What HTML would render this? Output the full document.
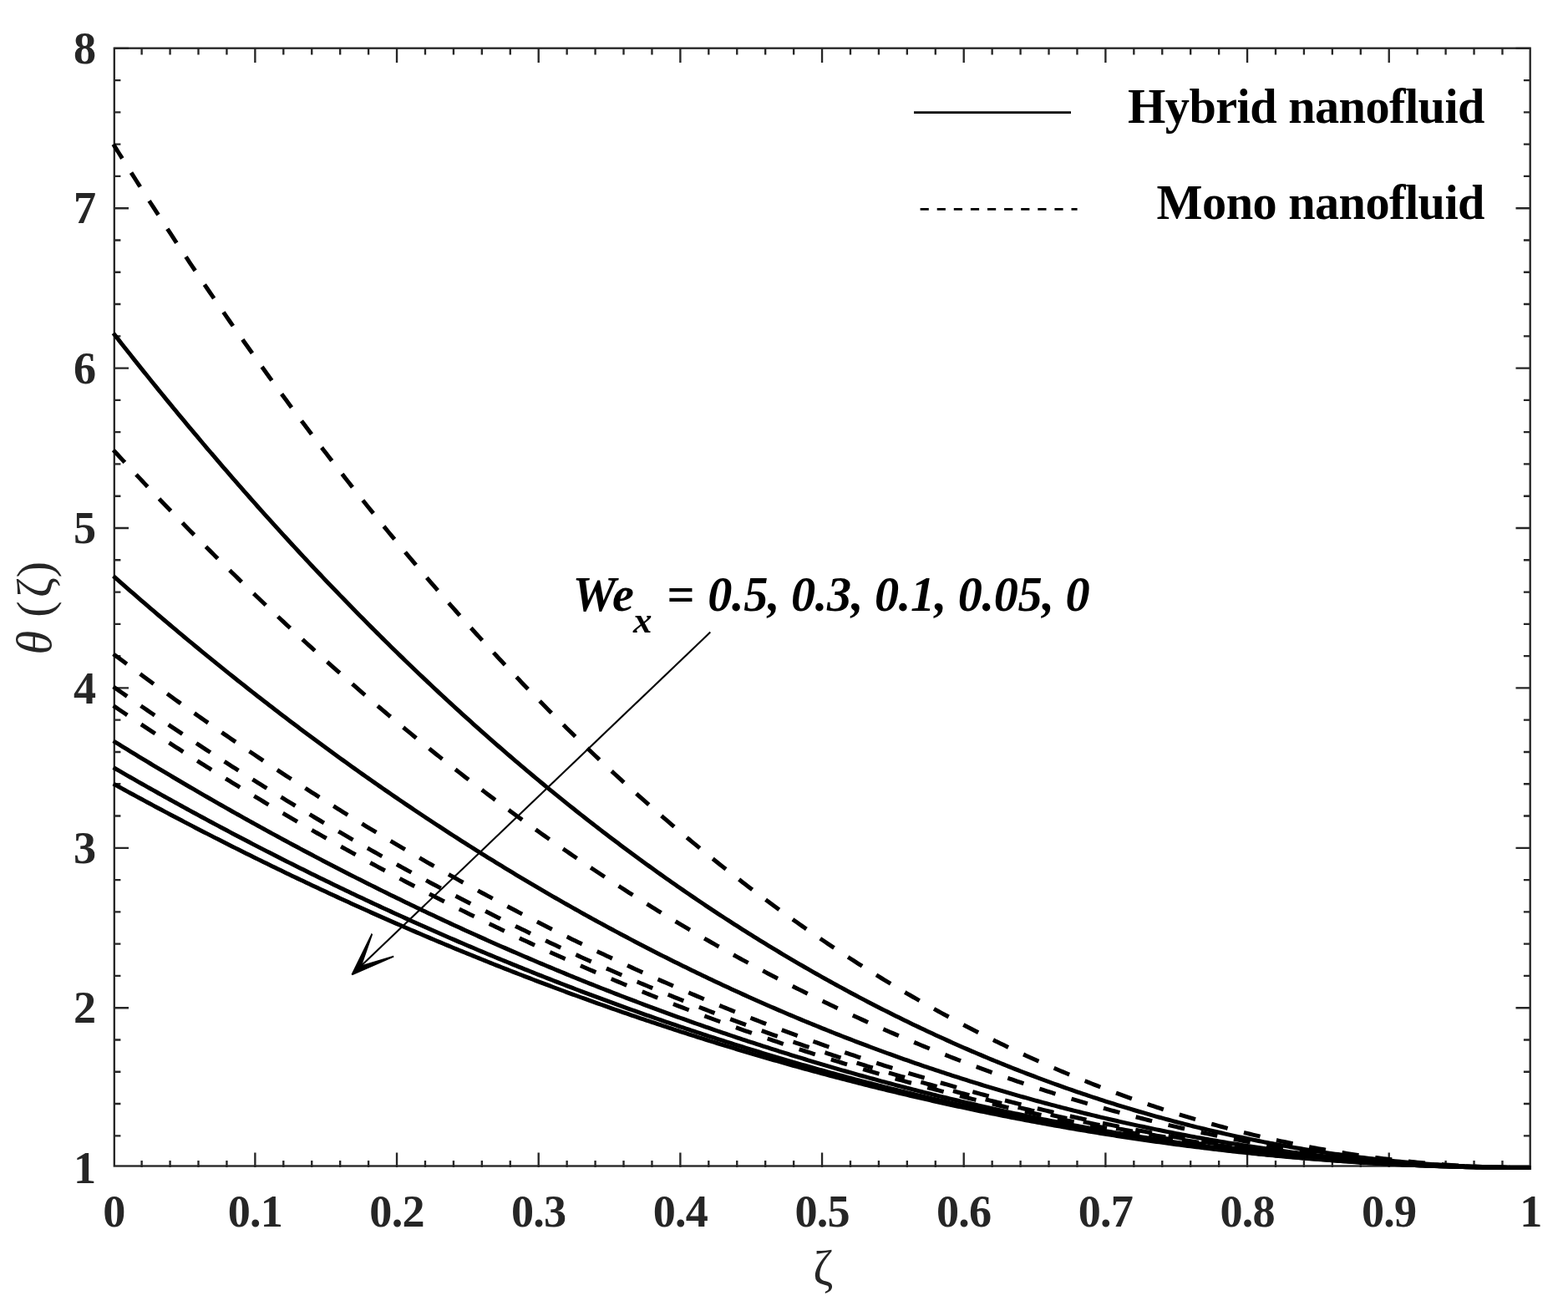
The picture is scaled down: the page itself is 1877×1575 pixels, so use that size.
<!DOCTYPE html>
<html lang="en"><head><meta charset="utf-8"><title>Temperature profile</title>
<style>html,body{margin:0;padding:0;background:#fff}body{width:1877px;height:1575px;overflow:hidden}svg{display:block}text{font-family:"Liberation Serif","DejaVu Serif",serif}.tk{font-weight:bold;font-size:54.2px;fill:#262626;letter-spacing:-0.8px}.lg{font-weight:bold;font-size:58.3px;fill:#000;letter-spacing:-0.55px}.an{font-weight:bold;font-style:italic;font-size:58.3px;fill:#000}.al{font-size:58.3px;fill:#262626}</style></head><body>
<svg width="1877" height="1575" viewBox="0 0 1877 1575" role="img" aria-label="Temperature profile plot">
<rect x="0" y="0" width="1877" height="1575" fill="#fff"/>
<path d="M169.63,1397.10 V1388.90 M169.63,57.70 V65.60 M203.57,1397.10 V1388.90 M203.57,57.70 V65.60 M237.50,1397.10 V1388.90 M237.50,57.70 V65.60 M271.44,1397.10 V1388.90 M271.44,57.70 V65.60 M305.37,1397.10 V1379.40 M305.37,57.70 V75.00 M339.30,1397.10 V1388.90 M339.30,57.70 V65.60 M373.24,1397.10 V1388.90 M373.24,57.70 V65.60 M407.17,1397.10 V1388.90 M407.17,57.70 V65.60 M441.11,1397.10 V1388.90 M441.11,57.70 V65.60 M475.04,1397.10 V1379.40 M475.04,57.70 V75.00 M508.97,1397.10 V1388.90 M508.97,57.70 V65.60 M542.91,1397.10 V1388.90 M542.91,57.70 V65.60 M576.84,1397.10 V1388.90 M576.84,57.70 V65.60 M610.78,1397.10 V1388.90 M610.78,57.70 V65.60 M644.71,1397.10 V1379.40 M644.71,57.70 V75.00 M678.64,1397.10 V1388.90 M678.64,57.70 V65.60 M712.58,1397.10 V1388.90 M712.58,57.70 V65.60 M746.51,1397.10 V1388.90 M746.51,57.70 V65.60 M780.45,1397.10 V1388.90 M780.45,57.70 V65.60 M814.38,1397.10 V1379.40 M814.38,57.70 V75.00 M848.31,1397.10 V1388.90 M848.31,57.70 V65.60 M882.25,1397.10 V1388.90 M882.25,57.70 V65.60 M916.18,1397.10 V1388.90 M916.18,57.70 V65.60 M950.12,1397.10 V1388.90 M950.12,57.70 V65.60 M984.05,1397.10 V1379.40 M984.05,57.70 V75.00 M1017.98,1397.10 V1388.90 M1017.98,57.70 V65.60 M1051.92,1397.10 V1388.90 M1051.92,57.70 V65.60 M1085.85,1397.10 V1388.90 M1085.85,57.70 V65.60 M1119.79,1397.10 V1388.90 M1119.79,57.70 V65.60 M1153.72,1397.10 V1379.40 M1153.72,57.70 V75.00 M1187.65,1397.10 V1388.90 M1187.65,57.70 V65.60 M1221.59,1397.10 V1388.90 M1221.59,57.70 V65.60 M1255.52,1397.10 V1388.90 M1255.52,57.70 V65.60 M1289.46,1397.10 V1388.90 M1289.46,57.70 V65.60 M1323.39,1397.10 V1379.40 M1323.39,57.70 V75.00 M1357.32,1397.10 V1388.90 M1357.32,57.70 V65.60 M1391.26,1397.10 V1388.90 M1391.26,57.70 V65.60 M1425.19,1397.10 V1388.90 M1425.19,57.70 V65.60 M1459.13,1397.10 V1388.90 M1459.13,57.70 V65.60 M1493.06,1397.10 V1379.40 M1493.06,57.70 V75.00 M1526.99,1397.10 V1388.90 M1526.99,57.70 V65.60 M1560.93,1397.10 V1388.90 M1560.93,57.70 V65.60 M1594.86,1397.10 V1388.90 M1594.86,57.70 V65.60 M1628.80,1397.10 V1388.90 M1628.80,57.70 V65.60 M1662.73,1397.10 V1379.40 M1662.73,57.70 V75.00 M1696.66,1397.10 V1388.90 M1696.66,57.70 V65.60 M1730.60,1397.10 V1388.90 M1730.60,57.70 V65.60 M1764.53,1397.10 V1388.90 M1764.53,57.70 V65.60 M1798.47,1397.10 V1388.90 M1798.47,57.70 V65.60 M136.80,1359.32 H144.40 M1831.70,1359.32 H1823.90 M136.80,1321.04 H144.40 M1831.70,1321.04 H1823.90 M136.80,1282.76 H144.40 M1831.70,1282.76 H1823.90 M136.80,1244.48 H144.40 M1831.70,1244.48 H1823.90 M136.80,1206.20 H154.00 M1831.70,1206.20 H1814.50 M136.80,1167.92 H144.40 M1831.70,1167.92 H1823.90 M136.80,1129.64 H144.40 M1831.70,1129.64 H1823.90 M136.80,1091.36 H144.40 M1831.70,1091.36 H1823.90 M136.80,1053.08 H144.40 M1831.70,1053.08 H1823.90 M136.80,1014.80 H154.00 M1831.70,1014.80 H1814.50 M136.80,976.52 H144.40 M1831.70,976.52 H1823.90 M136.80,938.24 H144.40 M1831.70,938.24 H1823.90 M136.80,899.96 H144.40 M1831.70,899.96 H1823.90 M136.80,861.68 H144.40 M1831.70,861.68 H1823.90 M136.80,823.40 H154.00 M1831.70,823.40 H1814.50 M136.80,785.12 H144.40 M1831.70,785.12 H1823.90 M136.80,746.84 H144.40 M1831.70,746.84 H1823.90 M136.80,708.56 H144.40 M1831.70,708.56 H1823.90 M136.80,670.28 H144.40 M1831.70,670.28 H1823.90 M136.80,632.00 H154.00 M1831.70,632.00 H1814.50 M136.80,593.72 H144.40 M1831.70,593.72 H1823.90 M136.80,555.44 H144.40 M1831.70,555.44 H1823.90 M136.80,517.16 H144.40 M1831.70,517.16 H1823.90 M136.80,478.88 H144.40 M1831.70,478.88 H1823.90 M136.80,440.60 H154.00 M1831.70,440.60 H1814.50 M136.80,402.32 H144.40 M1831.70,402.32 H1823.90 M136.80,364.04 H144.40 M1831.70,364.04 H1823.90 M136.80,325.76 H144.40 M1831.70,325.76 H1823.90 M136.80,287.48 H144.40 M1831.70,287.48 H1823.90 M136.80,249.20 H154.00 M1831.70,249.20 H1814.50 M136.80,210.92 H144.40 M1831.70,210.92 H1823.90 M136.80,172.64 H144.40 M1831.70,172.64 H1823.90 M136.80,134.36 H144.40 M1831.70,134.36 H1823.90 M136.80,96.08 H144.40 M1831.70,96.08 H1823.90 M136.80,57.80 H154.00 M1831.70,57.80 H1814.50" fill="none" stroke="#262626" stroke-width="2.35"/>
<rect x="136.80" y="57.70" width="1694.90" height="1337.80" fill="none" stroke="#262626" stroke-width="2.35"/>
<text class="tk" x="136.30" y="1468.20" text-anchor="middle">0</text>
<text class="tk" x="305.37" y="1468.20" text-anchor="middle">0.1</text>
<text class="tk" x="475.04" y="1468.20" text-anchor="middle">0.2</text>
<text class="tk" x="644.71" y="1468.20" text-anchor="middle">0.3</text>
<text class="tk" x="814.38" y="1468.20" text-anchor="middle">0.4</text>
<text class="tk" x="984.05" y="1468.20" text-anchor="middle">0.5</text>
<text class="tk" x="1153.72" y="1468.20" text-anchor="middle">0.6</text>
<text class="tk" x="1323.39" y="1468.20" text-anchor="middle">0.7</text>
<text class="tk" x="1493.06" y="1468.20" text-anchor="middle">0.8</text>
<text class="tk" x="1662.73" y="1468.20" text-anchor="middle">0.9</text>
<text class="tk" x="1832.40" y="1468.20" text-anchor="middle">1</text>
<text class="tk" x="114.20" y="1415.80" text-anchor="end">1</text>
<text class="tk" x="114.20" y="1224.40" text-anchor="end">2</text>
<text class="tk" x="114.20" y="1033.00" text-anchor="end">3</text>
<text class="tk" x="114.20" y="841.60" text-anchor="end">4</text>
<text class="tk" x="114.20" y="650.20" text-anchor="end">5</text>
<text class="tk" x="114.20" y="458.80" text-anchor="end">6</text>
<text class="tk" x="114.20" y="267.40" text-anchor="end">7</text>
<text class="tk" x="114.20" y="76.00" text-anchor="end">8</text>
<text class="al" x="985.3" y="1537.3" text-anchor="middle">ζ</text>
<text class="al" transform="translate(61,727) rotate(-90)"><tspan x="-56.5" font-style="italic">θ</tspan> <tspan x="-11.8">(</tspan><tspan x="11.8">ζ</tspan><tspan x="35.7">)</tspan></text>
<g fill="none" stroke="#000" stroke-width="5.00" stroke-linejoin="round">
<path d="M135.70,172.64 L139.09,178.08 L142.49,183.50 L145.88,188.91 L149.27,194.30 L152.67,199.68 L156.06,205.05 L159.45,210.40 L162.85,215.74 L166.24,221.06 L169.63,226.37 L173.03,231.67 L176.42,236.96 L179.81,242.23 L183.21,247.48 L186.60,252.72 L189.99,257.95 L193.39,263.17 L196.78,268.37 L200.17,273.55 L203.57,278.73 L206.96,283.89 L210.35,289.03 L213.75,294.17 L217.14,299.28 L220.53,304.39 L223.93,309.48 L227.32,314.56 L230.72,319.62 L234.11,324.67 L237.50,329.71 L240.90,334.73 L244.29,339.74 L247.68,344.74 L251.08,349.72 L254.47,354.68 L257.86,359.64 L261.26,364.58 L264.65,369.51 L268.04,374.42 L271.44,379.32 L274.83,384.21 L278.22,389.08 L281.62,393.94 L285.01,398.79 L288.40,403.62 L291.80,408.44 L295.19,413.24 L298.58,418.03 L301.98,422.81 L305.37,427.58 L308.76,432.33 L312.16,437.07 L315.55,441.79 L318.94,446.50 L322.34,451.20 L325.73,455.88 L329.12,460.55 L332.52,465.21 L335.91,469.85 L339.30,474.48 L342.70,479.10 L346.09,483.70 L349.48,488.29 L352.88,492.87 L356.27,497.43 L359.66,501.98 L363.06,506.52 L366.45,511.04 L369.84,515.55 L373.24,520.05 L376.63,524.53 L380.02,529.00 L383.42,533.46 L386.81,537.90 L390.20,542.33 L393.60,546.75 L396.99,551.15 L400.39,555.54 L403.78,559.92 L407.17,564.28 L410.57,568.63 L413.96,572.97 L417.35,577.30 L420.75,581.61 L424.14,585.91 L427.53,590.19 L430.93,594.46 L434.32,598.72 L437.71,602.97 L441.11,607.20 L444.50,611.42 L447.89,615.63 L451.29,619.82 L454.68,624.00 L458.07,628.17 L461.47,632.32 L464.86,636.46 L468.25,640.59 L471.65,644.71 L475.04,648.81 L478.43,652.90 L481.83,656.97 L485.22,661.04 L488.61,665.09 L492.01,669.12 L495.40,673.15 L498.79,677.16 L502.19,681.16 L505.58,685.15 L508.97,689.12 L512.37,693.08 L515.76,697.03 L519.15,700.96 L522.55,704.88 L525.94,708.79 L529.33,712.69 L532.73,716.57 L536.12,720.44 L539.51,724.30 L542.91,728.15 L546.30,731.98 L549.69,735.80 L553.09,739.61 L556.48,743.40 L559.88,747.18 L563.27,750.95 L566.66,754.71 L570.06,758.45 L573.45,762.18 L576.84,765.90 L580.24,769.61 L583.63,773.30 L587.02,776.98 L590.42,780.65 L593.81,784.31 L597.20,787.95 L600.60,791.58 L603.99,795.20 L607.38,798.80 L610.78,802.40 L614.17,805.98 L617.56,809.55 L620.96,813.10 L624.35,816.65 L627.74,820.18 L631.14,823.70 L634.53,827.20 L637.92,830.70 L641.32,834.18 L644.71,837.65 L648.10,841.10 L651.50,844.55 L654.89,847.98 L658.28,851.40 L661.68,854.81 L665.07,858.21 L668.46,861.59 L671.86,864.96 L675.25,868.32 L678.64,871.67 L682.04,875.00 L685.43,878.32 L688.82,881.63 L692.22,884.93 L695.61,888.22 L699.00,891.49 L702.40,894.75 L705.79,898.00 L709.18,901.24 L712.58,904.47 L715.97,907.68 L719.36,910.88 L722.76,914.07 L726.15,917.25 L729.55,920.41 L732.94,923.57 L736.33,926.71 L739.73,929.84 L743.12,932.96 L746.51,936.06 L749.91,939.16 L753.30,942.24 L756.69,945.31 L760.09,948.37 L763.48,951.41 L766.87,954.45 L770.27,957.47 L773.66,960.48 L777.05,963.48 L780.45,966.47 L783.84,969.44 L787.23,972.41 L790.63,975.36 L794.02,978.30 L797.41,981.23 L800.81,984.15 L804.20,987.05 L807.59,989.95 L810.99,992.83 L814.38,995.70 L817.77,998.56 L821.17,1001.40 L824.56,1004.24 L827.95,1007.06 L831.35,1009.88 L834.74,1012.68 L838.13,1015.47 L841.53,1018.25 L844.92,1021.01 L848.31,1023.77 L851.71,1026.51 L855.10,1029.25 L858.49,1031.97 L861.89,1034.68 L865.28,1037.37 L868.67,1040.06 L872.07,1042.74 L875.46,1045.40 L878.85,1048.05 L882.25,1050.69 L885.64,1053.32 L889.03,1055.94 L892.43,1058.55 L895.82,1061.15 L899.21,1063.73 L902.61,1066.31 L906.00,1068.87 L909.40,1071.42 L912.79,1073.96 L916.18,1076.49 L919.58,1079.01 L922.97,1081.51 L926.36,1084.01 L929.76,1086.49 L933.15,1088.97 L936.54,1091.43 L939.94,1093.88 L943.33,1096.32 L946.72,1098.75 L950.12,1101.17 L953.51,1103.58 L956.90,1105.97 L960.30,1108.36 L963.69,1110.73 L967.08,1113.10 L970.48,1115.45 L973.87,1117.79 L977.26,1120.12 L980.66,1122.44 L984.05,1124.75 L987.44,1127.05 L990.84,1129.33 L994.23,1131.61 L997.62,1133.88 L1001.02,1136.13 L1004.41,1138.37 L1007.80,1140.61 L1011.20,1142.83 L1014.59,1145.04 L1017.98,1147.24 L1021.38,1149.43 L1024.77,1151.61 L1028.16,1153.78 L1031.56,1155.94 L1034.95,1158.09 L1038.34,1160.23 L1041.74,1162.35 L1045.13,1164.47 L1048.52,1166.57 L1051.92,1168.67 L1055.31,1170.75 L1058.70,1172.83 L1062.10,1174.89 L1065.49,1176.94 L1068.88,1178.98 L1072.28,1181.01 L1075.67,1183.04 L1079.07,1185.05 L1082.46,1187.05 L1085.85,1189.04 L1089.25,1191.02 L1092.64,1192.99 L1096.03,1194.94 L1099.43,1196.89 L1102.82,1198.83 L1106.21,1200.76 L1109.61,1202.68 L1113.00,1204.58 L1116.39,1206.48 L1119.79,1208.37 L1123.18,1210.24 L1126.57,1212.11 L1129.97,1213.96 L1133.36,1215.81 L1136.75,1217.65 L1140.15,1219.47 L1143.54,1221.29 L1146.93,1223.09 L1150.33,1224.89 L1153.72,1226.67 L1157.11,1228.44 L1160.51,1230.21 L1163.90,1231.96 L1167.29,1233.71 L1170.69,1235.44 L1174.08,1237.17 L1177.47,1238.88 L1180.87,1240.58 L1184.26,1242.28 L1187.65,1243.96 L1191.05,1245.64 L1194.44,1247.30 L1197.83,1248.96 L1201.23,1250.60 L1204.62,1252.24 L1208.01,1253.86 L1211.41,1255.47 L1214.80,1257.08 L1218.19,1258.67 L1221.59,1260.26 L1224.98,1261.84 L1228.37,1263.40 L1231.77,1264.96 L1235.16,1266.50 L1238.56,1268.04 L1241.95,1269.57 L1245.34,1271.08 L1248.74,1272.59 L1252.13,1274.09 L1255.52,1275.57 L1258.92,1277.05 L1262.31,1278.52 L1265.70,1279.98 L1269.10,1281.43 L1272.49,1282.87 L1275.88,1284.30 L1279.28,1285.72 L1282.67,1287.13 L1286.06,1288.53 L1289.46,1289.92 L1292.85,1291.30 L1296.24,1292.68 L1299.64,1294.04 L1303.03,1295.39 L1306.42,1296.74 L1309.82,1298.07 L1313.21,1299.40 L1316.60,1300.71 L1320.00,1302.02 L1323.39,1303.31 L1326.78,1304.60 L1330.18,1305.88 L1333.57,1307.15 L1336.96,1308.41 L1340.36,1309.66 L1343.75,1310.90 L1347.14,1312.13 L1350.54,1313.35 L1353.93,1314.56 L1357.32,1315.76 L1360.72,1316.96 L1364.11,1318.14 L1367.50,1319.32 L1370.90,1320.48 L1374.29,1321.64 L1377.68,1322.79 L1381.08,1323.93 L1384.47,1325.06 L1387.86,1326.18 L1391.26,1327.29 L1394.65,1328.39 L1398.04,1329.48 L1401.44,1330.56 L1404.83,1331.64 L1408.23,1332.70 L1411.62,1333.76 L1415.01,1334.81 L1418.41,1335.84 L1421.80,1336.87 L1425.19,1337.89 L1428.59,1338.90 L1431.98,1339.90 L1435.37,1340.90 L1438.77,1341.88 L1442.16,1342.86 L1445.55,1343.82 L1448.95,1344.78 L1452.34,1345.73 L1455.73,1346.66 L1459.13,1347.59 L1462.52,1348.52 L1465.91,1349.43 L1469.31,1350.33 L1472.70,1351.23 L1476.09,1352.11 L1479.49,1352.99 L1482.88,1353.85 L1486.27,1354.71 L1489.67,1355.56 L1493.06,1356.40 L1496.45,1357.24 L1499.85,1358.06 L1503.24,1358.88 L1506.63,1359.68 L1510.03,1360.48 L1513.42,1361.27 L1516.81,1362.05 L1520.21,1362.82 L1523.60,1363.58 L1526.99,1364.33 L1530.39,1365.08 L1533.78,1365.82 L1537.17,1366.54 L1540.57,1367.26 L1543.96,1367.97 L1547.35,1368.67 L1550.75,1369.37 L1554.14,1370.05 L1557.53,1370.73 L1560.93,1371.39 L1564.32,1372.05 L1567.71,1372.70 L1571.11,1373.34 L1574.50,1373.98 L1577.89,1374.60 L1581.29,1375.21 L1584.68,1375.82 L1588.08,1376.42 L1591.47,1377.01 L1594.86,1377.59 L1598.26,1378.16 L1601.65,1378.73 L1605.04,1379.28 L1608.44,1379.83 L1611.83,1380.37 L1615.22,1380.90 L1618.62,1381.42 L1622.01,1381.94 L1625.40,1382.44 L1628.80,1382.94 L1632.19,1383.43 L1635.58,1383.91 L1638.98,1384.38 L1642.37,1384.84 L1645.76,1385.30 L1649.16,1385.74 L1652.55,1386.18 L1655.94,1386.61 L1659.34,1387.03 L1662.73,1387.44 L1666.12,1387.85 L1669.52,1388.25 L1672.91,1388.63 L1676.30,1389.01 L1679.70,1389.38 L1683.09,1389.75 L1686.48,1390.10 L1689.88,1390.45 L1693.27,1390.79 L1696.66,1391.12 L1700.06,1391.44 L1703.45,1391.75 L1706.84,1392.06 L1710.24,1392.35 L1713.63,1392.64 L1717.02,1392.92 L1720.42,1393.19 L1723.81,1393.46 L1727.20,1393.71 L1730.60,1393.96 L1733.99,1394.20 L1737.38,1394.43 L1740.78,1394.65 L1744.17,1394.87 L1747.57,1395.08 L1750.96,1395.27 L1754.35,1395.46 L1757.75,1395.65 L1761.14,1395.82 L1764.53,1395.99 L1767.93,1396.14 L1771.32,1396.29 L1774.71,1396.43 L1778.11,1396.57 L1781.50,1396.69 L1784.89,1396.81 L1788.29,1396.92 L1791.68,1397.02 L1795.07,1397.11 L1798.47,1397.20 L1801.86,1397.27 L1805.25,1397.34 L1808.65,1397.40 L1812.04,1397.46 L1815.43,1397.50 L1818.83,1397.54 L1822.22,1397.56 L1825.61,1397.58 L1829.01,1397.60 L1832.40,1397.60" stroke-dasharray="20.10 19.95"/>
<path d="M135.70,398.68 L139.09,403.02 L142.49,407.35 L145.88,411.67 L149.27,415.97 L152.67,420.27 L156.06,424.55 L159.45,428.83 L162.85,433.09 L166.24,437.35 L169.63,441.59 L173.03,445.82 L176.42,450.04 L179.81,454.25 L183.21,458.45 L186.60,462.64 L189.99,466.82 L193.39,470.99 L196.78,475.15 L200.17,479.30 L203.57,483.43 L206.96,487.56 L210.35,491.68 L213.75,495.78 L217.14,499.88 L220.53,503.96 L223.93,508.04 L227.32,512.10 L230.72,516.15 L234.11,520.20 L237.50,524.23 L240.90,528.25 L244.29,532.26 L247.68,536.26 L251.08,540.25 L254.47,544.23 L257.86,548.20 L261.26,552.16 L264.65,556.11 L268.04,560.05 L271.44,563.98 L274.83,567.89 L278.22,571.80 L281.62,575.70 L285.01,579.58 L288.40,583.46 L291.80,587.32 L295.19,591.18 L298.58,595.02 L301.98,598.86 L305.37,602.68 L308.76,606.49 L312.16,610.30 L315.55,614.09 L318.94,617.87 L322.34,621.64 L325.73,625.41 L329.12,629.16 L332.52,632.90 L335.91,636.63 L339.30,640.35 L342.70,644.06 L346.09,647.76 L349.48,651.45 L352.88,655.13 L356.27,658.80 L359.66,662.46 L363.06,666.10 L366.45,669.74 L369.84,673.37 L373.24,676.99 L376.63,680.60 L380.02,684.19 L383.42,687.78 L386.81,691.36 L390.20,694.92 L393.60,698.48 L396.99,702.03 L400.39,705.56 L403.78,709.09 L407.17,712.61 L410.57,716.11 L413.96,719.61 L417.35,723.09 L420.75,726.57 L424.14,730.03 L427.53,733.49 L430.93,736.93 L434.32,740.37 L437.71,743.79 L441.11,747.21 L444.50,750.61 L447.89,754.01 L451.29,757.39 L454.68,760.76 L458.07,764.13 L461.47,767.48 L464.86,770.83 L468.25,774.16 L471.65,777.48 L475.04,780.80 L478.43,784.10 L481.83,787.40 L485.22,790.68 L488.61,793.95 L492.01,797.22 L495.40,800.47 L498.79,803.72 L502.19,806.95 L505.58,810.18 L508.97,813.39 L512.37,816.59 L515.76,819.79 L519.15,822.97 L522.55,826.15 L525.94,829.31 L529.33,832.47 L532.73,835.61 L536.12,838.75 L539.51,841.87 L542.91,844.99 L546.30,848.09 L549.69,851.19 L553.09,854.28 L556.48,857.35 L559.88,860.42 L563.27,863.47 L566.66,866.52 L570.06,869.56 L573.45,872.58 L576.84,875.60 L580.24,878.61 L583.63,881.61 L587.02,884.59 L590.42,887.57 L593.81,890.54 L597.20,893.50 L600.60,896.45 L603.99,899.39 L607.38,902.32 L610.78,905.24 L614.17,908.15 L617.56,911.05 L620.96,913.94 L624.35,916.82 L627.74,919.69 L631.14,922.55 L634.53,925.41 L637.92,928.25 L641.32,931.08 L644.71,933.91 L648.10,936.72 L651.50,939.52 L654.89,942.32 L658.28,945.10 L661.68,947.88 L665.07,950.65 L668.46,953.40 L671.86,956.15 L675.25,958.89 L678.64,961.62 L682.04,964.33 L685.43,967.04 L688.82,969.74 L692.22,972.43 L695.61,975.11 L699.00,977.78 L702.40,980.44 L705.79,983.10 L709.18,985.74 L712.58,988.37 L715.97,991.00 L719.36,993.61 L722.76,996.22 L726.15,998.81 L729.55,1001.40 L732.94,1003.98 L736.33,1006.54 L739.73,1009.10 L743.12,1011.65 L746.51,1014.19 L749.91,1016.72 L753.30,1019.24 L756.69,1021.75 L760.09,1024.25 L763.48,1026.75 L766.87,1029.23 L770.27,1031.71 L773.66,1034.17 L777.05,1036.63 L780.45,1039.07 L783.84,1041.51 L787.23,1043.94 L790.63,1046.36 L794.02,1048.77 L797.41,1051.17 L800.81,1053.56 L804.20,1055.94 L807.59,1058.31 L810.99,1060.68 L814.38,1063.03 L817.77,1065.38 L821.17,1067.71 L824.56,1070.04 L827.95,1072.36 L831.35,1074.67 L834.74,1076.97 L838.13,1079.26 L841.53,1081.54 L844.92,1083.82 L848.31,1086.08 L851.71,1088.33 L855.10,1090.58 L858.49,1092.82 L861.89,1095.04 L865.28,1097.26 L868.67,1099.47 L872.07,1101.67 L875.46,1103.86 L878.85,1106.05 L882.25,1108.22 L885.64,1110.38 L889.03,1112.54 L892.43,1114.69 L895.82,1116.83 L899.21,1118.95 L902.61,1121.07 L906.00,1123.19 L909.40,1125.29 L912.79,1127.38 L916.18,1129.47 L919.58,1131.54 L922.97,1133.61 L926.36,1135.67 L929.76,1137.72 L933.15,1139.76 L936.54,1141.79 L939.94,1143.81 L943.33,1145.82 L946.72,1147.83 L950.12,1149.83 L953.51,1151.81 L956.90,1153.79 L960.30,1155.76 L963.69,1157.72 L967.08,1159.68 L970.48,1161.62 L973.87,1163.56 L977.26,1165.48 L980.66,1167.40 L984.05,1169.31 L987.44,1171.21 L990.84,1173.10 L994.23,1174.99 L997.62,1176.86 L1001.02,1178.73 L1004.41,1180.58 L1007.80,1182.43 L1011.20,1184.27 L1014.59,1186.10 L1017.98,1187.93 L1021.38,1189.74 L1024.77,1191.55 L1028.16,1193.35 L1031.56,1195.13 L1034.95,1196.91 L1038.34,1198.69 L1041.74,1200.45 L1045.13,1202.20 L1048.52,1203.95 L1051.92,1205.69 L1055.31,1207.42 L1058.70,1209.14 L1062.10,1210.85 L1065.49,1212.55 L1068.88,1214.25 L1072.28,1215.94 L1075.67,1217.61 L1079.07,1219.28 L1082.46,1220.95 L1085.85,1222.60 L1089.25,1224.24 L1092.64,1225.88 L1096.03,1227.51 L1099.43,1229.13 L1102.82,1230.74 L1106.21,1232.34 L1109.61,1233.94 L1113.00,1235.52 L1116.39,1237.10 L1119.79,1238.67 L1123.18,1240.23 L1126.57,1241.79 L1129.97,1243.33 L1133.36,1244.87 L1136.75,1246.40 L1140.15,1247.92 L1143.54,1249.43 L1146.93,1250.93 L1150.33,1252.43 L1153.72,1253.92 L1157.11,1255.40 L1160.51,1256.87 L1163.90,1258.33 L1167.29,1259.78 L1170.69,1261.23 L1174.08,1262.67 L1177.47,1264.10 L1180.87,1265.52 L1184.26,1266.94 L1187.65,1268.34 L1191.05,1269.74 L1194.44,1271.13 L1197.83,1272.51 L1201.23,1273.88 L1204.62,1275.25 L1208.01,1276.61 L1211.41,1277.96 L1214.80,1279.30 L1218.19,1280.63 L1221.59,1281.96 L1224.98,1283.27 L1228.37,1284.58 L1231.77,1285.88 L1235.16,1287.18 L1238.56,1288.46 L1241.95,1289.74 L1245.34,1291.01 L1248.74,1292.27 L1252.13,1293.52 L1255.52,1294.77 L1258.92,1296.00 L1262.31,1297.23 L1265.70,1298.46 L1269.10,1299.67 L1272.49,1300.88 L1275.88,1302.07 L1279.28,1303.26 L1282.67,1304.45 L1286.06,1305.62 L1289.46,1306.79 L1292.85,1307.94 L1296.24,1309.10 L1299.64,1310.24 L1303.03,1311.37 L1306.42,1312.50 L1309.82,1313.62 L1313.21,1314.73 L1316.60,1315.84 L1320.00,1316.93 L1323.39,1318.02 L1326.78,1319.10 L1330.18,1320.17 L1333.57,1321.24 L1336.96,1322.30 L1340.36,1323.35 L1343.75,1324.39 L1347.14,1325.42 L1350.54,1326.45 L1353.93,1327.47 L1357.32,1328.48 L1360.72,1329.48 L1364.11,1330.48 L1367.50,1331.47 L1370.90,1332.45 L1374.29,1333.42 L1377.68,1334.39 L1381.08,1335.34 L1384.47,1336.29 L1387.86,1337.24 L1391.26,1338.17 L1394.65,1339.10 L1398.04,1340.02 L1401.44,1340.93 L1404.83,1341.83 L1408.23,1342.73 L1411.62,1343.62 L1415.01,1344.50 L1418.41,1345.38 L1421.80,1346.24 L1425.19,1347.10 L1428.59,1347.95 L1431.98,1348.80 L1435.37,1349.63 L1438.77,1350.46 L1442.16,1351.29 L1445.55,1352.10 L1448.95,1352.91 L1452.34,1353.71 L1455.73,1354.50 L1459.13,1355.28 L1462.52,1356.06 L1465.91,1356.83 L1469.31,1357.59 L1472.70,1358.35 L1476.09,1359.09 L1479.49,1359.83 L1482.88,1360.57 L1486.27,1361.29 L1489.67,1362.01 L1493.06,1362.72 L1496.45,1363.42 L1499.85,1364.12 L1503.24,1364.81 L1506.63,1365.49 L1510.03,1366.16 L1513.42,1366.83 L1516.81,1367.48 L1520.21,1368.14 L1523.60,1368.78 L1526.99,1369.42 L1530.39,1370.05 L1533.78,1370.67 L1537.17,1371.28 L1540.57,1371.89 L1543.96,1372.49 L1547.35,1373.09 L1550.75,1373.67 L1554.14,1374.25 L1557.53,1374.82 L1560.93,1375.39 L1564.32,1375.94 L1567.71,1376.49 L1571.11,1377.04 L1574.50,1377.57 L1577.89,1378.10 L1581.29,1378.62 L1584.68,1379.14 L1588.08,1379.64 L1591.47,1380.14 L1594.86,1380.63 L1598.26,1381.12 L1601.65,1381.60 L1605.04,1382.07 L1608.44,1382.53 L1611.83,1382.99 L1615.22,1383.44 L1618.62,1383.88 L1622.01,1384.31 L1625.40,1384.74 L1628.80,1385.16 L1632.19,1385.58 L1635.58,1385.98 L1638.98,1386.38 L1642.37,1386.78 L1645.76,1387.16 L1649.16,1387.54 L1652.55,1387.91 L1655.94,1388.28 L1659.34,1388.63 L1662.73,1388.98 L1666.12,1389.33 L1669.52,1389.66 L1672.91,1389.99 L1676.30,1390.31 L1679.70,1390.63 L1683.09,1390.93 L1686.48,1391.24 L1689.88,1391.53 L1693.27,1391.82 L1696.66,1392.10 L1700.06,1392.37 L1703.45,1392.63 L1706.84,1392.89 L1710.24,1393.15 L1713.63,1393.39 L1717.02,1393.63 L1720.42,1393.86 L1723.81,1394.08 L1727.20,1394.30 L1730.60,1394.51 L1733.99,1394.71 L1737.38,1394.91 L1740.78,1395.10 L1744.17,1395.28 L1747.57,1395.46 L1750.96,1395.62 L1754.35,1395.79 L1757.75,1395.94 L1761.14,1396.09 L1764.53,1396.23 L1767.93,1396.36 L1771.32,1396.49 L1774.71,1396.61 L1778.11,1396.72 L1781.50,1396.83 L1784.89,1396.93 L1788.29,1397.02 L1791.68,1397.11 L1795.07,1397.19 L1798.47,1397.26 L1801.86,1397.32 L1805.25,1397.38 L1808.65,1397.43 L1812.04,1397.48 L1815.43,1397.51 L1818.83,1397.55 L1822.22,1397.57 L1825.61,1397.59 L1829.01,1397.60 L1832.40,1397.60"/>
<path d="M135.70,538.60 L139.09,542.28 L142.49,545.95 L145.88,549.61 L149.27,553.26 L152.67,556.91 L156.06,560.54 L159.45,564.17 L162.85,567.79 L166.24,571.40 L169.63,575.00 L173.03,578.60 L176.42,582.18 L179.81,585.76 L183.21,589.33 L186.60,592.89 L189.99,596.44 L193.39,599.98 L196.78,603.51 L200.17,607.04 L203.57,610.55 L206.96,614.06 L210.35,617.56 L213.75,621.05 L217.14,624.53 L220.53,628.01 L223.93,631.47 L227.32,634.93 L230.72,638.37 L234.11,641.81 L237.50,645.24 L240.90,648.67 L244.29,652.08 L247.68,655.48 L251.08,658.88 L254.47,662.27 L257.86,665.65 L261.26,669.02 L264.65,672.38 L268.04,675.73 L271.44,679.08 L274.83,682.41 L278.22,685.74 L281.62,689.06 L285.01,692.37 L288.40,695.67 L291.80,698.96 L295.19,702.25 L298.58,705.52 L301.98,708.79 L305.37,712.05 L308.76,715.30 L312.16,718.54 L315.55,721.77 L318.94,725.00 L322.34,728.21 L325.73,731.42 L329.12,734.62 L332.52,737.81 L335.91,740.99 L339.30,744.17 L342.70,747.33 L346.09,750.49 L349.48,753.63 L352.88,756.77 L356.27,759.90 L359.66,763.03 L363.06,766.14 L366.45,769.25 L369.84,772.34 L373.24,775.43 L376.63,778.51 L380.02,781.58 L383.42,784.64 L386.81,787.70 L390.20,790.74 L393.60,793.78 L396.99,796.81 L400.39,799.83 L403.78,802.84 L407.17,805.84 L410.57,808.84 L413.96,811.82 L417.35,814.80 L420.75,817.77 L424.14,820.73 L427.53,823.68 L430.93,826.63 L434.32,829.56 L437.71,832.49 L441.11,835.41 L444.50,838.32 L447.89,841.22 L451.29,844.11 L454.68,847.00 L458.07,849.88 L461.47,852.74 L464.86,855.60 L468.25,858.45 L471.65,861.30 L475.04,864.13 L478.43,866.96 L481.83,869.78 L485.22,872.59 L488.61,875.39 L492.01,878.18 L495.40,880.96 L498.79,883.74 L502.19,886.51 L505.58,889.27 L508.97,892.02 L512.37,894.76 L515.76,897.49 L519.15,900.22 L522.55,902.94 L525.94,905.65 L529.33,908.35 L532.73,911.04 L536.12,913.72 L539.51,916.40 L542.91,919.07 L546.30,921.73 L549.69,924.38 L553.09,927.02 L556.48,929.66 L559.88,932.28 L563.27,934.90 L566.66,937.51 L570.06,940.11 L573.45,942.70 L576.84,945.29 L580.24,947.87 L583.63,950.44 L587.02,953.00 L590.42,955.55 L593.81,958.09 L597.20,960.63 L600.60,963.16 L603.99,965.68 L607.38,968.19 L610.78,970.69 L614.17,973.19 L617.56,975.67 L620.96,978.15 L624.35,980.62 L627.74,983.08 L631.14,985.54 L634.53,987.98 L637.92,990.42 L641.32,992.85 L644.71,995.27 L648.10,997.69 L651.50,1000.09 L654.89,1002.49 L658.28,1004.88 L661.68,1007.26 L665.07,1009.64 L668.46,1012.00 L671.86,1014.36 L675.25,1016.71 L678.64,1019.05 L682.04,1021.38 L685.43,1023.71 L688.82,1026.02 L692.22,1028.33 L695.61,1030.64 L699.00,1032.93 L702.40,1035.21 L705.79,1037.49 L709.18,1039.76 L712.58,1042.02 L715.97,1044.27 L719.36,1046.52 L722.76,1048.76 L726.15,1050.99 L729.55,1053.21 L732.94,1055.42 L736.33,1057.63 L739.73,1059.83 L743.12,1062.02 L746.51,1064.20 L749.91,1066.37 L753.30,1068.54 L756.69,1070.70 L760.09,1072.85 L763.48,1074.99 L766.87,1077.12 L770.27,1079.25 L773.66,1081.37 L777.05,1083.48 L780.45,1085.59 L783.84,1087.68 L787.23,1089.77 L790.63,1091.85 L794.02,1093.92 L797.41,1095.99 L800.81,1098.04 L804.20,1100.09 L807.59,1102.13 L810.99,1104.17 L814.38,1106.19 L817.77,1108.21 L821.17,1110.22 L824.56,1112.22 L827.95,1114.22 L831.35,1116.21 L834.74,1118.19 L838.13,1120.16 L841.53,1122.12 L844.92,1124.08 L848.31,1126.03 L851.71,1127.97 L855.10,1129.90 L858.49,1131.83 L861.89,1133.75 L865.28,1135.66 L868.67,1137.56 L872.07,1139.46 L875.46,1141.34 L878.85,1143.22 L882.25,1145.10 L885.64,1146.96 L889.03,1148.82 L892.43,1150.67 L895.82,1152.51 L899.21,1154.35 L902.61,1156.17 L906.00,1157.99 L909.40,1159.81 L912.79,1161.61 L916.18,1163.41 L919.58,1165.20 L922.97,1166.98 L926.36,1168.76 L929.76,1170.52 L933.15,1172.28 L936.54,1174.04 L939.94,1175.78 L943.33,1177.52 L946.72,1179.25 L950.12,1180.97 L953.51,1182.69 L956.90,1184.39 L960.30,1186.10 L963.69,1187.79 L967.08,1189.47 L970.48,1191.15 L973.87,1192.82 L977.26,1194.49 L980.66,1196.14 L984.05,1197.79 L987.44,1199.43 L990.84,1201.07 L994.23,1202.70 L997.62,1204.32 L1001.02,1205.93 L1004.41,1207.53 L1007.80,1209.13 L1011.20,1210.72 L1014.59,1212.30 L1017.98,1213.88 L1021.38,1215.45 L1024.77,1217.01 L1028.16,1218.56 L1031.56,1220.11 L1034.95,1221.65 L1038.34,1223.18 L1041.74,1224.71 L1045.13,1226.23 L1048.52,1227.74 L1051.92,1229.24 L1055.31,1230.74 L1058.70,1232.23 L1062.10,1233.71 L1065.49,1235.19 L1068.88,1236.65 L1072.28,1238.12 L1075.67,1239.57 L1079.07,1241.02 L1082.46,1242.46 L1085.85,1243.89 L1089.25,1245.31 L1092.64,1246.73 L1096.03,1248.14 L1099.43,1249.55 L1102.82,1250.94 L1106.21,1252.33 L1109.61,1253.72 L1113.00,1255.09 L1116.39,1256.46 L1119.79,1257.82 L1123.18,1259.18 L1126.57,1260.53 L1129.97,1261.87 L1133.36,1263.20 L1136.75,1264.53 L1140.15,1265.85 L1143.54,1267.16 L1146.93,1268.47 L1150.33,1269.77 L1153.72,1271.06 L1157.11,1272.34 L1160.51,1273.62 L1163.90,1274.89 L1167.29,1276.16 L1170.69,1277.41 L1174.08,1278.66 L1177.47,1279.91 L1180.87,1281.14 L1184.26,1282.37 L1187.65,1283.60 L1191.05,1284.81 L1194.44,1286.02 L1197.83,1287.22 L1201.23,1288.42 L1204.62,1289.61 L1208.01,1290.79 L1211.41,1291.96 L1214.80,1293.13 L1218.19,1294.29 L1221.59,1295.45 L1224.98,1296.60 L1228.37,1297.74 L1231.77,1298.87 L1235.16,1300.00 L1238.56,1301.12 L1241.95,1302.23 L1245.34,1303.34 L1248.74,1304.44 L1252.13,1305.53 L1255.52,1306.62 L1258.92,1307.70 L1262.31,1308.77 L1265.70,1309.84 L1269.10,1310.90 L1272.49,1311.95 L1275.88,1313.00 L1279.28,1314.04 L1282.67,1315.07 L1286.06,1316.10 L1289.46,1317.12 L1292.85,1318.13 L1296.24,1319.14 L1299.64,1320.14 L1303.03,1321.13 L1306.42,1322.12 L1309.82,1323.10 L1313.21,1324.07 L1316.60,1325.04 L1320.00,1326.00 L1323.39,1326.95 L1326.78,1327.90 L1330.18,1328.84 L1333.57,1329.77 L1336.96,1330.70 L1340.36,1331.62 L1343.75,1332.54 L1347.14,1333.44 L1350.54,1334.34 L1353.93,1335.24 L1357.32,1336.13 L1360.72,1337.01 L1364.11,1337.88 L1367.50,1338.75 L1370.90,1339.61 L1374.29,1340.47 L1377.68,1341.31 L1381.08,1342.16 L1384.47,1342.99 L1387.86,1343.82 L1391.26,1344.64 L1394.65,1345.46 L1398.04,1346.27 L1401.44,1347.07 L1404.83,1347.87 L1408.23,1348.66 L1411.62,1349.44 L1415.01,1350.22 L1418.41,1350.99 L1421.80,1351.75 L1425.19,1352.51 L1428.59,1353.26 L1431.98,1354.01 L1435.37,1354.75 L1438.77,1355.48 L1442.16,1356.20 L1445.55,1356.92 L1448.95,1357.64 L1452.34,1358.34 L1455.73,1359.04 L1459.13,1359.74 L1462.52,1360.42 L1465.91,1361.10 L1469.31,1361.78 L1472.70,1362.45 L1476.09,1363.11 L1479.49,1363.76 L1482.88,1364.41 L1486.27,1365.06 L1489.67,1365.69 L1493.06,1366.32 L1496.45,1366.94 L1499.85,1367.56 L1503.24,1368.17 L1506.63,1368.78 L1510.03,1369.38 L1513.42,1369.97 L1516.81,1370.55 L1520.21,1371.13 L1523.60,1371.70 L1526.99,1372.27 L1530.39,1372.83 L1533.78,1373.38 L1537.17,1373.93 L1540.57,1374.47 L1543.96,1375.01 L1547.35,1375.54 L1550.75,1376.06 L1554.14,1376.58 L1557.53,1377.08 L1560.93,1377.59 L1564.32,1378.09 L1567.71,1378.58 L1571.11,1379.06 L1574.50,1379.54 L1577.89,1380.01 L1581.29,1380.48 L1584.68,1380.94 L1588.08,1381.39 L1591.47,1381.84 L1594.86,1382.28 L1598.26,1382.71 L1601.65,1383.14 L1605.04,1383.56 L1608.44,1383.98 L1611.83,1384.39 L1615.22,1384.79 L1618.62,1385.19 L1622.01,1385.58 L1625.40,1385.96 L1628.80,1386.34 L1632.19,1386.71 L1635.58,1387.08 L1638.98,1387.44 L1642.37,1387.79 L1645.76,1388.14 L1649.16,1388.48 L1652.55,1388.81 L1655.94,1389.14 L1659.34,1389.46 L1662.73,1389.78 L1666.12,1390.09 L1669.52,1390.39 L1672.91,1390.69 L1676.30,1390.98 L1679.70,1391.26 L1683.09,1391.54 L1686.48,1391.81 L1689.88,1392.08 L1693.27,1392.34 L1696.66,1392.59 L1700.06,1392.84 L1703.45,1393.08 L1706.84,1393.31 L1710.24,1393.54 L1713.63,1393.76 L1717.02,1393.98 L1720.42,1394.19 L1723.81,1394.39 L1727.20,1394.59 L1730.60,1394.78 L1733.99,1394.96 L1737.38,1395.14 L1740.78,1395.31 L1744.17,1395.48 L1747.57,1395.64 L1750.96,1395.79 L1754.35,1395.94 L1757.75,1396.08 L1761.14,1396.22 L1764.53,1396.34 L1767.93,1396.47 L1771.32,1396.58 L1774.71,1396.69 L1778.11,1396.80 L1781.50,1396.89 L1784.89,1396.98 L1788.29,1397.07 L1791.68,1397.15 L1795.07,1397.22 L1798.47,1397.29 L1801.86,1397.35 L1805.25,1397.40 L1808.65,1397.45 L1812.04,1397.49 L1815.43,1397.52 L1818.83,1397.55 L1822.22,1397.57 L1825.61,1397.59 L1829.01,1397.60 L1832.40,1397.60" stroke-dasharray="20.10 19.95"/>
<path d="M135.70,689.42 L139.09,692.41 L142.49,695.40 L145.88,698.38 L149.27,701.36 L152.67,704.32 L156.06,707.28 L159.45,710.24 L162.85,713.18 L166.24,716.12 L169.63,719.05 L173.03,721.98 L176.42,724.90 L179.81,727.81 L183.21,730.72 L186.60,733.61 L189.99,736.51 L193.39,739.39 L196.78,742.27 L200.17,745.14 L203.57,748.00 L206.96,750.86 L210.35,753.71 L213.75,756.56 L217.14,759.39 L220.53,762.22 L223.93,765.05 L227.32,767.86 L230.72,770.67 L234.11,773.48 L237.50,776.27 L240.90,779.06 L244.29,781.84 L247.68,784.62 L251.08,787.39 L254.47,790.15 L257.86,792.91 L261.26,795.65 L264.65,798.40 L268.04,801.13 L271.44,803.86 L274.83,806.58 L278.22,809.30 L281.62,812.00 L285.01,814.70 L288.40,817.40 L291.80,820.08 L295.19,822.77 L298.58,825.44 L301.98,828.11 L305.37,830.77 L308.76,833.42 L312.16,836.07 L315.55,838.70 L318.94,841.34 L322.34,843.96 L325.73,846.58 L329.12,849.20 L332.52,851.80 L335.91,854.40 L339.30,856.99 L342.70,859.58 L346.09,862.16 L349.48,864.73 L352.88,867.29 L356.27,869.85 L359.66,872.40 L363.06,874.95 L366.45,877.49 L369.84,880.02 L373.24,882.54 L376.63,885.06 L380.02,887.57 L383.42,890.08 L386.81,892.57 L390.20,895.07 L393.60,897.55 L396.99,900.03 L400.39,902.50 L403.78,904.96 L407.17,907.42 L410.57,909.87 L413.96,912.31 L417.35,914.75 L420.75,917.18 L424.14,919.60 L427.53,922.02 L430.93,924.43 L434.32,926.84 L437.71,929.23 L441.11,931.62 L444.50,934.01 L447.89,936.38 L451.29,938.75 L454.68,941.12 L458.07,943.47 L461.47,945.82 L464.86,948.17 L468.25,950.50 L471.65,952.83 L475.04,955.16 L478.43,957.47 L481.83,959.79 L485.22,962.09 L488.61,964.39 L492.01,966.68 L495.40,968.96 L498.79,971.24 L502.19,973.51 L505.58,975.77 L508.97,978.03 L512.37,980.28 L515.76,982.52 L519.15,984.76 L522.55,986.99 L525.94,989.21 L529.33,991.43 L532.73,993.64 L536.12,995.85 L539.51,998.04 L542.91,1000.23 L546.30,1002.42 L549.69,1004.60 L553.09,1006.77 L556.48,1008.93 L559.88,1011.09 L563.27,1013.24 L566.66,1015.39 L570.06,1017.52 L573.45,1019.66 L576.84,1021.78 L580.24,1023.90 L583.63,1026.01 L587.02,1028.12 L590.42,1030.22 L593.81,1032.31 L597.20,1034.40 L600.60,1036.48 L603.99,1038.55 L607.38,1040.61 L610.78,1042.67 L614.17,1044.73 L617.56,1046.77 L620.96,1048.82 L624.35,1050.85 L627.74,1052.88 L631.14,1054.90 L634.53,1056.91 L637.92,1058.92 L641.32,1060.92 L644.71,1062.92 L648.10,1064.91 L651.50,1066.89 L654.89,1068.86 L658.28,1070.83 L661.68,1072.80 L665.07,1074.75 L668.46,1076.70 L671.86,1078.64 L675.25,1080.58 L678.64,1082.51 L682.04,1084.44 L685.43,1086.35 L688.82,1088.27 L692.22,1090.17 L695.61,1092.07 L699.00,1093.96 L702.40,1095.85 L705.79,1097.73 L709.18,1099.60 L712.58,1101.47 L715.97,1103.33 L719.36,1105.18 L722.76,1107.03 L726.15,1108.87 L729.55,1110.70 L732.94,1112.53 L736.33,1114.35 L739.73,1116.17 L743.12,1117.98 L746.51,1119.78 L749.91,1121.58 L753.30,1123.37 L756.69,1125.15 L760.09,1126.93 L763.48,1128.70 L766.87,1130.47 L770.27,1132.23 L773.66,1133.98 L777.05,1135.73 L780.45,1137.47 L783.84,1139.20 L787.23,1140.93 L790.63,1142.65 L794.02,1144.36 L797.41,1146.07 L800.81,1147.77 L804.20,1149.47 L807.59,1151.16 L810.99,1152.84 L814.38,1154.52 L817.77,1156.19 L821.17,1157.86 L824.56,1159.52 L827.95,1161.17 L831.35,1162.82 L834.74,1164.46 L838.13,1166.09 L841.53,1167.72 L844.92,1169.34 L848.31,1170.95 L851.71,1172.56 L855.10,1174.17 L858.49,1175.76 L861.89,1177.35 L865.28,1178.94 L868.67,1180.52 L872.07,1182.09 L875.46,1183.66 L878.85,1185.22 L882.25,1186.77 L885.64,1188.32 L889.03,1189.86 L892.43,1191.39 L895.82,1192.92 L899.21,1194.45 L902.61,1195.96 L906.00,1197.47 L909.40,1198.98 L912.79,1200.48 L916.18,1201.97 L919.58,1203.46 L922.97,1204.94 L926.36,1206.41 L929.76,1207.88 L933.15,1209.34 L936.54,1210.80 L939.94,1212.25 L943.33,1213.70 L946.72,1215.13 L950.12,1216.57 L953.51,1217.99 L956.90,1219.41 L960.30,1220.83 L963.69,1222.23 L967.08,1223.64 L970.48,1225.03 L973.87,1226.42 L977.26,1227.81 L980.66,1229.18 L984.05,1230.56 L987.44,1231.92 L990.84,1233.28 L994.23,1234.64 L997.62,1235.99 L1001.02,1237.33 L1004.41,1238.66 L1007.80,1240.00 L1011.20,1241.32 L1014.59,1242.64 L1017.98,1243.95 L1021.38,1245.26 L1024.77,1246.56 L1028.16,1247.85 L1031.56,1249.14 L1034.95,1250.43 L1038.34,1251.70 L1041.74,1252.97 L1045.13,1254.24 L1048.52,1255.50 L1051.92,1256.75 L1055.31,1258.00 L1058.70,1259.24 L1062.10,1260.48 L1065.49,1261.71 L1068.88,1262.93 L1072.28,1264.15 L1075.67,1265.36 L1079.07,1266.57 L1082.46,1267.77 L1085.85,1268.97 L1089.25,1270.16 L1092.64,1271.34 L1096.03,1272.52 L1099.43,1273.69 L1102.82,1274.85 L1106.21,1276.01 L1109.61,1277.17 L1113.00,1278.32 L1116.39,1279.46 L1119.79,1280.60 L1123.18,1281.73 L1126.57,1282.85 L1129.97,1283.97 L1133.36,1285.09 L1136.75,1286.20 L1140.15,1287.30 L1143.54,1288.40 L1146.93,1289.49 L1150.33,1290.57 L1153.72,1291.65 L1157.11,1292.72 L1160.51,1293.79 L1163.90,1294.86 L1167.29,1295.91 L1170.69,1296.96 L1174.08,1298.01 L1177.47,1299.05 L1180.87,1300.08 L1184.26,1301.11 L1187.65,1302.13 L1191.05,1303.15 L1194.44,1304.16 L1197.83,1305.17 L1201.23,1306.17 L1204.62,1307.16 L1208.01,1308.15 L1211.41,1309.13 L1214.80,1310.11 L1218.19,1311.08 L1221.59,1312.05 L1224.98,1313.01 L1228.37,1313.96 L1231.77,1314.91 L1235.16,1315.85 L1238.56,1316.79 L1241.95,1317.72 L1245.34,1318.65 L1248.74,1319.57 L1252.13,1320.49 L1255.52,1321.40 L1258.92,1322.30 L1262.31,1323.20 L1265.70,1324.09 L1269.10,1324.98 L1272.49,1325.86 L1275.88,1326.74 L1279.28,1327.61 L1282.67,1328.47 L1286.06,1329.33 L1289.46,1330.19 L1292.85,1331.03 L1296.24,1331.88 L1299.64,1332.72 L1303.03,1333.55 L1306.42,1334.37 L1309.82,1335.19 L1313.21,1336.01 L1316.60,1336.82 L1320.00,1337.62 L1323.39,1338.42 L1326.78,1339.22 L1330.18,1340.00 L1333.57,1340.79 L1336.96,1341.56 L1340.36,1342.33 L1343.75,1343.10 L1347.14,1343.86 L1350.54,1344.61 L1353.93,1345.36 L1357.32,1346.11 L1360.72,1346.85 L1364.11,1347.58 L1367.50,1348.31 L1370.90,1349.03 L1374.29,1349.75 L1377.68,1350.46 L1381.08,1351.16 L1384.47,1351.86 L1387.86,1352.56 L1391.26,1353.25 L1394.65,1353.93 L1398.04,1354.61 L1401.44,1355.28 L1404.83,1355.95 L1408.23,1356.61 L1411.62,1357.27 L1415.01,1357.92 L1418.41,1358.57 L1421.80,1359.21 L1425.19,1359.84 L1428.59,1360.47 L1431.98,1361.10 L1435.37,1361.72 L1438.77,1362.33 L1442.16,1362.94 L1445.55,1363.54 L1448.95,1364.14 L1452.34,1364.73 L1455.73,1365.32 L1459.13,1365.90 L1462.52,1366.48 L1465.91,1367.05 L1469.31,1367.61 L1472.70,1368.17 L1476.09,1368.73 L1479.49,1369.28 L1482.88,1369.82 L1486.27,1370.36 L1489.67,1370.89 L1493.06,1371.42 L1496.45,1371.94 L1499.85,1372.46 L1503.24,1372.97 L1506.63,1373.48 L1510.03,1373.98 L1513.42,1374.48 L1516.81,1374.97 L1520.21,1375.45 L1523.60,1375.93 L1526.99,1376.41 L1530.39,1376.88 L1533.78,1377.34 L1537.17,1377.80 L1540.57,1378.25 L1543.96,1378.70 L1547.35,1379.14 L1550.75,1379.58 L1554.14,1380.01 L1557.53,1380.44 L1560.93,1380.86 L1564.32,1381.28 L1567.71,1381.69 L1571.11,1382.10 L1574.50,1382.50 L1577.89,1382.89 L1581.29,1383.28 L1584.68,1383.67 L1588.08,1384.05 L1591.47,1384.42 L1594.86,1384.79 L1598.26,1385.15 L1601.65,1385.51 L1605.04,1385.87 L1608.44,1386.21 L1611.83,1386.56 L1615.22,1386.89 L1618.62,1387.23 L1622.01,1387.55 L1625.40,1387.87 L1628.80,1388.19 L1632.19,1388.50 L1635.58,1388.81 L1638.98,1389.11 L1642.37,1389.40 L1645.76,1389.69 L1649.16,1389.98 L1652.55,1390.26 L1655.94,1390.53 L1659.34,1390.80 L1662.73,1391.07 L1666.12,1391.32 L1669.52,1391.58 L1672.91,1391.83 L1676.30,1392.07 L1679.70,1392.31 L1683.09,1392.54 L1686.48,1392.77 L1689.88,1392.99 L1693.27,1393.21 L1696.66,1393.42 L1700.06,1393.62 L1703.45,1393.83 L1706.84,1394.02 L1710.24,1394.21 L1713.63,1394.40 L1717.02,1394.58 L1720.42,1394.75 L1723.81,1394.92 L1727.20,1395.09 L1730.60,1395.25 L1733.99,1395.40 L1737.38,1395.55 L1740.78,1395.69 L1744.17,1395.83 L1747.57,1395.97 L1750.96,1396.09 L1754.35,1396.22 L1757.75,1396.33 L1761.14,1396.45 L1764.53,1396.55 L1767.93,1396.66 L1771.32,1396.75 L1774.71,1396.84 L1778.11,1396.93 L1781.50,1397.01 L1784.89,1397.09 L1788.29,1397.16 L1791.68,1397.22 L1795.07,1397.28 L1798.47,1397.34 L1801.86,1397.39 L1805.25,1397.43 L1808.65,1397.47 L1812.04,1397.51 L1815.43,1397.53 L1818.83,1397.56 L1822.22,1397.58 L1825.61,1397.59 L1829.01,1397.60 L1832.40,1397.60"/>
<path d="M135.70,782.63 L139.09,785.19 L142.49,787.75 L145.88,790.30 L149.27,792.84 L152.67,795.38 L156.06,797.91 L159.45,800.44 L162.85,802.96 L166.24,805.48 L169.63,807.99 L173.03,810.49 L176.42,812.99 L179.81,815.48 L183.21,817.97 L186.60,820.45 L189.99,822.93 L193.39,825.40 L196.78,827.87 L200.17,830.33 L203.57,832.78 L206.96,835.23 L210.35,837.67 L213.75,840.11 L217.14,842.54 L220.53,844.97 L223.93,847.39 L227.32,849.80 L230.72,852.21 L234.11,854.61 L237.50,857.01 L240.90,859.40 L244.29,861.79 L247.68,864.17 L251.08,866.54 L254.47,868.91 L257.86,871.28 L261.26,873.63 L264.65,875.99 L268.04,878.33 L271.44,880.67 L274.83,883.01 L278.22,885.34 L281.62,887.66 L285.01,889.98 L288.40,892.30 L291.80,894.60 L295.19,896.90 L298.58,899.20 L301.98,901.49 L305.37,903.78 L308.76,906.06 L312.16,908.33 L315.55,910.60 L318.94,912.86 L322.34,915.12 L325.73,917.37 L329.12,919.61 L332.52,921.85 L335.91,924.09 L339.30,926.32 L342.70,928.54 L346.09,930.76 L349.48,932.97 L352.88,935.17 L356.27,937.37 L359.66,939.57 L363.06,941.76 L366.45,943.94 L369.84,946.12 L373.24,948.29 L376.63,950.46 L380.02,952.62 L383.42,954.78 L386.81,956.93 L390.20,959.07 L393.60,961.21 L396.99,963.34 L400.39,965.47 L403.78,967.59 L407.17,969.71 L410.57,971.82 L413.96,973.92 L417.35,976.02 L420.75,978.12 L424.14,980.21 L427.53,982.29 L430.93,984.37 L434.32,986.44 L437.71,988.51 L441.11,990.57 L444.50,992.62 L447.89,994.67 L451.29,996.71 L454.68,998.75 L458.07,1000.79 L461.47,1002.81 L464.86,1004.83 L468.25,1006.85 L471.65,1008.86 L475.04,1010.87 L478.43,1012.86 L481.83,1014.86 L485.22,1016.85 L488.61,1018.83 L492.01,1020.81 L495.40,1022.78 L498.79,1024.74 L502.19,1026.70 L505.58,1028.66 L508.97,1030.61 L512.37,1032.55 L515.76,1034.49 L519.15,1036.42 L522.55,1038.35 L525.94,1040.27 L529.33,1042.19 L532.73,1044.10 L536.12,1046.00 L539.51,1047.90 L542.91,1049.80 L546.30,1051.69 L549.69,1053.57 L553.09,1055.45 L556.48,1057.32 L559.88,1059.19 L563.27,1061.05 L566.66,1062.90 L570.06,1064.75 L573.45,1066.60 L576.84,1068.44 L580.24,1070.27 L583.63,1072.10 L587.02,1073.92 L590.42,1075.74 L593.81,1077.55 L597.20,1079.36 L600.60,1081.16 L603.99,1082.95 L607.38,1084.74 L610.78,1086.53 L614.17,1088.31 L617.56,1090.08 L620.96,1091.85 L624.35,1093.61 L627.74,1095.37 L631.14,1097.12 L634.53,1098.86 L637.92,1100.61 L641.32,1102.34 L644.71,1104.07 L648.10,1105.79 L651.50,1107.51 L654.89,1109.23 L658.28,1110.94 L661.68,1112.64 L665.07,1114.33 L668.46,1116.03 L671.86,1117.71 L675.25,1119.39 L678.64,1121.07 L682.04,1122.74 L685.43,1124.40 L688.82,1126.06 L692.22,1127.72 L695.61,1129.37 L699.00,1131.01 L702.40,1132.65 L705.79,1134.28 L709.18,1135.91 L712.58,1137.53 L715.97,1139.14 L719.36,1140.76 L722.76,1142.36 L726.15,1143.96 L729.55,1145.56 L732.94,1147.15 L736.33,1148.73 L739.73,1150.31 L743.12,1151.88 L746.51,1153.45 L749.91,1155.01 L753.30,1156.57 L756.69,1158.12 L760.09,1159.67 L763.48,1161.21 L766.87,1162.75 L770.27,1164.28 L773.66,1165.80 L777.05,1167.32 L780.45,1168.84 L783.84,1170.35 L787.23,1171.85 L790.63,1173.35 L794.02,1174.84 L797.41,1176.33 L800.81,1177.81 L804.20,1179.29 L807.59,1180.76 L810.99,1182.23 L814.38,1183.69 L817.77,1185.15 L821.17,1186.60 L824.56,1188.04 L827.95,1189.49 L831.35,1190.92 L834.74,1192.35 L838.13,1193.78 L841.53,1195.20 L844.92,1196.61 L848.31,1198.02 L851.71,1199.42 L855.10,1200.82 L858.49,1202.21 L861.89,1203.60 L865.28,1204.98 L868.67,1206.36 L872.07,1207.73 L875.46,1209.10 L878.85,1210.46 L882.25,1211.82 L885.64,1213.17 L889.03,1214.52 L892.43,1215.86 L895.82,1217.20 L899.21,1218.53 L902.61,1219.85 L906.00,1221.17 L909.40,1222.49 L912.79,1223.80 L916.18,1225.10 L919.58,1226.40 L922.97,1227.69 L926.36,1228.98 L929.76,1230.27 L933.15,1231.55 L936.54,1232.82 L939.94,1234.09 L943.33,1235.35 L946.72,1236.61 L950.12,1237.86 L953.51,1239.11 L956.90,1240.35 L960.30,1241.59 L963.69,1242.82 L967.08,1244.05 L970.48,1245.27 L973.87,1246.49 L977.26,1247.70 L980.66,1248.91 L984.05,1250.11 L987.44,1251.31 L990.84,1252.50 L994.23,1253.69 L997.62,1254.87 L1001.02,1256.04 L1004.41,1257.21 L1007.80,1258.38 L1011.20,1259.54 L1014.59,1260.70 L1017.98,1261.85 L1021.38,1262.99 L1024.77,1264.13 L1028.16,1265.27 L1031.56,1266.40 L1034.95,1267.53 L1038.34,1268.65 L1041.74,1269.76 L1045.13,1270.87 L1048.52,1271.98 L1051.92,1273.08 L1055.31,1274.17 L1058.70,1275.26 L1062.10,1276.35 L1065.49,1277.43 L1068.88,1278.50 L1072.28,1279.57 L1075.67,1280.64 L1079.07,1281.70 L1082.46,1282.75 L1085.85,1283.80 L1089.25,1284.85 L1092.64,1285.89 L1096.03,1286.92 L1099.43,1287.95 L1102.82,1288.98 L1106.21,1290.00 L1109.61,1291.01 L1113.00,1292.02 L1116.39,1293.03 L1119.79,1294.03 L1123.18,1295.02 L1126.57,1296.01 L1129.97,1296.99 L1133.36,1297.97 L1136.75,1298.95 L1140.15,1299.92 L1143.54,1300.89 L1146.93,1301.85 L1150.33,1302.80 L1153.72,1303.75 L1157.11,1304.70 L1160.51,1305.64 L1163.90,1306.57 L1167.29,1307.50 L1170.69,1308.43 L1174.08,1309.35 L1177.47,1310.26 L1180.87,1311.17 L1184.26,1312.08 L1187.65,1312.98 L1191.05,1313.88 L1194.44,1314.77 L1197.83,1315.65 L1201.23,1316.54 L1204.62,1317.41 L1208.01,1318.28 L1211.41,1319.15 L1214.80,1320.01 L1218.19,1320.87 L1221.59,1321.72 L1224.98,1322.57 L1228.37,1323.41 L1231.77,1324.25 L1235.16,1325.08 L1238.56,1325.91 L1241.95,1326.73 L1245.34,1327.55 L1248.74,1328.36 L1252.13,1329.17 L1255.52,1329.97 L1258.92,1330.77 L1262.31,1331.56 L1265.70,1332.35 L1269.10,1333.14 L1272.49,1333.91 L1275.88,1334.69 L1279.28,1335.46 L1282.67,1336.22 L1286.06,1336.98 L1289.46,1337.74 L1292.85,1338.49 L1296.24,1339.23 L1299.64,1339.97 L1303.03,1340.71 L1306.42,1341.44 L1309.82,1342.16 L1313.21,1342.88 L1316.60,1343.60 L1320.00,1344.31 L1323.39,1345.02 L1326.78,1345.72 L1330.18,1346.42 L1333.57,1347.11 L1336.96,1347.80 L1340.36,1348.48 L1343.75,1349.16 L1347.14,1349.83 L1350.54,1350.50 L1353.93,1351.16 L1357.32,1351.82 L1360.72,1352.47 L1364.11,1353.12 L1367.50,1353.77 L1370.90,1354.41 L1374.29,1355.04 L1377.68,1355.67 L1381.08,1356.30 L1384.47,1356.92 L1387.86,1357.53 L1391.26,1358.14 L1394.65,1358.75 L1398.04,1359.35 L1401.44,1359.95 L1404.83,1360.54 L1408.23,1361.13 L1411.62,1361.71 L1415.01,1362.29 L1418.41,1362.86 L1421.80,1363.43 L1425.19,1363.99 L1428.59,1364.55 L1431.98,1365.11 L1435.37,1365.66 L1438.77,1366.20 L1442.16,1366.74 L1445.55,1367.27 L1448.95,1367.81 L1452.34,1368.33 L1455.73,1368.85 L1459.13,1369.37 L1462.52,1369.88 L1465.91,1370.39 L1469.31,1370.89 L1472.70,1371.39 L1476.09,1371.88 L1479.49,1372.37 L1482.88,1372.85 L1486.27,1373.33 L1489.67,1373.80 L1493.06,1374.27 L1496.45,1374.74 L1499.85,1375.20 L1503.24,1375.65 L1506.63,1376.10 L1510.03,1376.55 L1513.42,1376.99 L1516.81,1377.42 L1520.21,1377.86 L1523.60,1378.28 L1526.99,1378.70 L1530.39,1379.12 L1533.78,1379.54 L1537.17,1379.94 L1540.57,1380.35 L1543.96,1380.75 L1547.35,1381.14 L1550.75,1381.53 L1554.14,1381.91 L1557.53,1382.29 L1560.93,1382.67 L1564.32,1383.04 L1567.71,1383.41 L1571.11,1383.77 L1574.50,1384.12 L1577.89,1384.48 L1581.29,1384.82 L1584.68,1385.17 L1588.08,1385.50 L1591.47,1385.84 L1594.86,1386.17 L1598.26,1386.49 L1601.65,1386.81 L1605.04,1387.13 L1608.44,1387.44 L1611.83,1387.74 L1615.22,1388.04 L1618.62,1388.34 L1622.01,1388.63 L1625.40,1388.92 L1628.80,1389.20 L1632.19,1389.48 L1635.58,1389.75 L1638.98,1390.02 L1642.37,1390.28 L1645.76,1390.54 L1649.16,1390.79 L1652.55,1391.04 L1655.94,1391.29 L1659.34,1391.53 L1662.73,1391.76 L1666.12,1391.99 L1669.52,1392.22 L1672.91,1392.44 L1676.30,1392.66 L1679.70,1392.87 L1683.09,1393.08 L1686.48,1393.28 L1689.88,1393.48 L1693.27,1393.67 L1696.66,1393.86 L1700.06,1394.05 L1703.45,1394.23 L1706.84,1394.40 L1710.24,1394.57 L1713.63,1394.74 L1717.02,1394.90 L1720.42,1395.05 L1723.81,1395.21 L1727.20,1395.35 L1730.60,1395.50 L1733.99,1395.63 L1737.38,1395.77 L1740.78,1395.90 L1744.17,1396.02 L1747.57,1396.14 L1750.96,1396.25 L1754.35,1396.36 L1757.75,1396.47 L1761.14,1396.57 L1764.53,1396.66 L1767.93,1396.76 L1771.32,1396.84 L1774.71,1396.92 L1778.11,1397.00 L1781.50,1397.07 L1784.89,1397.14 L1788.29,1397.20 L1791.68,1397.26 L1795.07,1397.32 L1798.47,1397.37 L1801.86,1397.41 L1805.25,1397.45 L1808.65,1397.49 L1812.04,1397.52 L1815.43,1397.54 L1818.83,1397.56 L1822.22,1397.58 L1825.61,1397.59 L1829.01,1397.60 L1832.40,1397.60" stroke-dasharray="20.10 19.95"/>
<path d="M135.70,821.87 L139.09,824.25 L142.49,826.63 L145.88,829.00 L149.27,831.37 L152.67,833.73 L156.06,836.09 L159.45,838.44 L162.85,840.79 L166.24,843.13 L169.63,845.47 L173.03,847.80 L176.42,850.13 L179.81,852.45 L183.21,854.77 L186.60,857.08 L189.99,859.38 L193.39,861.68 L196.78,863.98 L200.17,866.27 L203.57,868.55 L206.96,870.83 L210.35,873.11 L213.75,875.38 L217.14,877.64 L220.53,879.90 L223.93,882.16 L227.32,884.41 L230.72,886.65 L234.11,888.89 L237.50,891.12 L240.90,893.35 L244.29,895.57 L247.68,897.79 L251.08,900.01 L254.47,902.21 L257.86,904.42 L261.26,906.61 L264.65,908.80 L268.04,910.99 L271.44,913.17 L274.83,915.35 L278.22,917.52 L281.62,919.69 L285.01,921.85 L288.40,924.01 L291.80,926.16 L295.19,928.30 L298.58,930.44 L301.98,932.58 L305.37,934.71 L308.76,936.83 L312.16,938.95 L315.55,941.07 L318.94,943.18 L322.34,945.28 L325.73,947.38 L329.12,949.47 L332.52,951.56 L335.91,953.65 L339.30,955.72 L342.70,957.80 L346.09,959.87 L349.48,961.93 L352.88,963.99 L356.27,966.04 L359.66,968.09 L363.06,970.13 L366.45,972.17 L369.84,974.20 L373.24,976.22 L376.63,978.25 L380.02,980.26 L383.42,982.27 L386.81,984.28 L390.20,986.28 L393.60,988.28 L396.99,990.27 L400.39,992.25 L403.78,994.23 L407.17,996.21 L410.57,998.18 L413.96,1000.14 L417.35,1002.10 L420.75,1004.06 L424.14,1006.01 L427.53,1007.95 L430.93,1009.89 L434.32,1011.83 L437.71,1013.75 L441.11,1015.68 L444.50,1017.60 L447.89,1019.51 L451.29,1021.42 L454.68,1023.32 L458.07,1025.22 L461.47,1027.11 L464.86,1029.00 L468.25,1030.88 L471.65,1032.76 L475.04,1034.63 L478.43,1036.50 L481.83,1038.36 L485.22,1040.22 L488.61,1042.07 L492.01,1043.92 L495.40,1045.76 L498.79,1047.60 L502.19,1049.43 L505.58,1051.25 L508.97,1053.08 L512.37,1054.89 L515.76,1056.70 L519.15,1058.51 L522.55,1060.31 L525.94,1062.10 L529.33,1063.90 L532.73,1065.68 L536.12,1067.46 L539.51,1069.24 L542.91,1071.01 L546.30,1072.77 L549.69,1074.53 L553.09,1076.29 L556.48,1078.04 L559.88,1079.78 L563.27,1081.52 L566.66,1083.26 L570.06,1084.98 L573.45,1086.71 L576.84,1088.43 L580.24,1090.14 L583.63,1091.85 L587.02,1093.56 L590.42,1095.26 L593.81,1096.95 L597.20,1098.64 L600.60,1100.32 L603.99,1102.00 L607.38,1103.67 L610.78,1105.34 L614.17,1107.01 L617.56,1108.67 L620.96,1110.32 L624.35,1111.97 L627.74,1113.61 L631.14,1115.25 L634.53,1116.88 L637.92,1118.51 L641.32,1120.13 L644.71,1121.75 L648.10,1123.37 L651.50,1124.97 L654.89,1126.58 L658.28,1128.18 L661.68,1129.77 L665.07,1131.36 L668.46,1132.94 L671.86,1134.52 L675.25,1136.09 L678.64,1137.66 L682.04,1139.22 L685.43,1140.78 L688.82,1142.33 L692.22,1143.88 L695.61,1145.42 L699.00,1146.96 L702.40,1148.50 L705.79,1150.02 L709.18,1151.55 L712.58,1153.07 L715.97,1154.58 L719.36,1156.09 L722.76,1157.59 L726.15,1159.09 L729.55,1160.58 L732.94,1162.07 L736.33,1163.55 L739.73,1165.03 L743.12,1166.50 L746.51,1167.97 L749.91,1169.44 L753.30,1170.89 L756.69,1172.35 L760.09,1173.80 L763.48,1175.24 L766.87,1176.68 L770.27,1178.11 L773.66,1179.54 L777.05,1180.97 L780.45,1182.39 L783.84,1183.80 L787.23,1185.21 L790.63,1186.61 L794.02,1188.01 L797.41,1189.41 L800.81,1190.80 L804.20,1192.18 L807.59,1193.56 L810.99,1194.93 L814.38,1196.30 L817.77,1197.67 L821.17,1199.03 L824.56,1200.38 L827.95,1201.74 L831.35,1203.08 L834.74,1204.42 L838.13,1205.76 L841.53,1207.09 L844.92,1208.41 L848.31,1209.73 L851.71,1211.05 L855.10,1212.36 L858.49,1213.67 L861.89,1214.97 L865.28,1216.27 L868.67,1217.56 L872.07,1218.84 L875.46,1220.13 L878.85,1221.40 L882.25,1222.68 L885.64,1223.94 L889.03,1225.21 L892.43,1226.46 L895.82,1227.72 L899.21,1228.97 L902.61,1230.21 L906.00,1231.45 L909.40,1232.68 L912.79,1233.91 L916.18,1235.13 L919.58,1236.35 L922.97,1237.57 L926.36,1238.78 L929.76,1239.98 L933.15,1241.18 L936.54,1242.38 L939.94,1243.57 L943.33,1244.75 L946.72,1245.93 L950.12,1247.11 L953.51,1248.28 L956.90,1249.45 L960.30,1250.61 L963.69,1251.77 L967.08,1252.92 L970.48,1254.07 L973.87,1255.21 L977.26,1256.35 L980.66,1257.48 L984.05,1258.61 L987.44,1259.73 L990.84,1260.85 L994.23,1261.96 L997.62,1263.07 L1001.02,1264.18 L1004.41,1265.28 L1007.80,1266.37 L1011.20,1267.46 L1014.59,1268.55 L1017.98,1269.63 L1021.38,1270.71 L1024.77,1271.78 L1028.16,1272.84 L1031.56,1273.91 L1034.95,1274.96 L1038.34,1276.02 L1041.74,1277.06 L1045.13,1278.11 L1048.52,1279.15 L1051.92,1280.18 L1055.31,1281.21 L1058.70,1282.23 L1062.10,1283.25 L1065.49,1284.27 L1068.88,1285.28 L1072.28,1286.28 L1075.67,1287.28 L1079.07,1288.28 L1082.46,1289.27 L1085.85,1290.26 L1089.25,1291.24 L1092.64,1292.22 L1096.03,1293.19 L1099.43,1294.16 L1102.82,1295.12 L1106.21,1296.08 L1109.61,1297.04 L1113.00,1297.99 L1116.39,1298.93 L1119.79,1299.87 L1123.18,1300.81 L1126.57,1301.74 L1129.97,1302.67 L1133.36,1303.59 L1136.75,1304.50 L1140.15,1305.42 L1143.54,1306.32 L1146.93,1307.23 L1150.33,1308.13 L1153.72,1309.02 L1157.11,1309.91 L1160.51,1310.79 L1163.90,1311.67 L1167.29,1312.55 L1170.69,1313.42 L1174.08,1314.29 L1177.47,1315.15 L1180.87,1316.01 L1184.26,1316.86 L1187.65,1317.71 L1191.05,1318.55 L1194.44,1319.39 L1197.83,1320.22 L1201.23,1321.05 L1204.62,1321.88 L1208.01,1322.70 L1211.41,1323.51 L1214.80,1324.33 L1218.19,1325.13 L1221.59,1325.94 L1224.98,1326.73 L1228.37,1327.53 L1231.77,1328.31 L1235.16,1329.10 L1238.56,1329.88 L1241.95,1330.65 L1245.34,1331.42 L1248.74,1332.19 L1252.13,1332.95 L1255.52,1333.71 L1258.92,1334.46 L1262.31,1335.21 L1265.70,1335.95 L1269.10,1336.69 L1272.49,1337.42 L1275.88,1338.15 L1279.28,1338.88 L1282.67,1339.60 L1286.06,1340.31 L1289.46,1341.02 L1292.85,1341.73 L1296.24,1342.43 L1299.64,1343.13 L1303.03,1343.82 L1306.42,1344.51 L1309.82,1345.20 L1313.21,1345.88 L1316.60,1346.55 L1320.00,1347.22 L1323.39,1347.89 L1326.78,1348.55 L1330.18,1349.21 L1333.57,1349.86 L1336.96,1350.51 L1340.36,1351.15 L1343.75,1351.79 L1347.14,1352.43 L1350.54,1353.06 L1353.93,1353.68 L1357.32,1354.30 L1360.72,1354.92 L1364.11,1355.53 L1367.50,1356.14 L1370.90,1356.74 L1374.29,1357.34 L1377.68,1357.94 L1381.08,1358.53 L1384.47,1359.11 L1387.86,1359.70 L1391.26,1360.27 L1394.65,1360.84 L1398.04,1361.41 L1401.44,1361.98 L1404.83,1362.53 L1408.23,1363.09 L1411.62,1363.64 L1415.01,1364.18 L1418.41,1364.72 L1421.80,1365.26 L1425.19,1365.79 L1428.59,1366.32 L1431.98,1366.84 L1435.37,1367.36 L1438.77,1367.88 L1442.16,1368.39 L1445.55,1368.89 L1448.95,1369.39 L1452.34,1369.89 L1455.73,1370.38 L1459.13,1370.87 L1462.52,1371.35 L1465.91,1371.83 L1469.31,1372.31 L1472.70,1372.78 L1476.09,1373.24 L1479.49,1373.70 L1482.88,1374.16 L1486.27,1374.61 L1489.67,1375.06 L1493.06,1375.50 L1496.45,1375.94 L1499.85,1376.38 L1503.24,1376.81 L1506.63,1377.23 L1510.03,1377.66 L1513.42,1378.07 L1516.81,1378.49 L1520.21,1378.89 L1523.60,1379.30 L1526.99,1379.70 L1530.39,1380.09 L1533.78,1380.48 L1537.17,1380.87 L1540.57,1381.25 L1543.96,1381.63 L1547.35,1382.00 L1550.75,1382.37 L1554.14,1382.73 L1557.53,1383.09 L1560.93,1383.45 L1564.32,1383.80 L1567.71,1384.15 L1571.11,1384.49 L1574.50,1384.83 L1577.89,1385.16 L1581.29,1385.49 L1584.68,1385.81 L1588.08,1386.13 L1591.47,1386.45 L1594.86,1386.76 L1598.26,1387.07 L1601.65,1387.37 L1605.04,1387.67 L1608.44,1387.96 L1611.83,1388.25 L1615.22,1388.53 L1618.62,1388.81 L1622.01,1389.09 L1625.40,1389.36 L1628.80,1389.63 L1632.19,1389.89 L1635.58,1390.15 L1638.98,1390.41 L1642.37,1390.65 L1645.76,1390.90 L1649.16,1391.14 L1652.55,1391.38 L1655.94,1391.61 L1659.34,1391.84 L1662.73,1392.06 L1666.12,1392.28 L1669.52,1392.49 L1672.91,1392.70 L1676.30,1392.91 L1679.70,1393.11 L1683.09,1393.31 L1686.48,1393.50 L1689.88,1393.69 L1693.27,1393.87 L1696.66,1394.05 L1700.06,1394.23 L1703.45,1394.40 L1706.84,1394.56 L1710.24,1394.72 L1713.63,1394.88 L1717.02,1395.03 L1720.42,1395.18 L1723.81,1395.33 L1727.20,1395.47 L1730.60,1395.60 L1733.99,1395.73 L1737.38,1395.86 L1740.78,1395.98 L1744.17,1396.10 L1747.57,1396.21 L1750.96,1396.32 L1754.35,1396.42 L1757.75,1396.52 L1761.14,1396.62 L1764.53,1396.71 L1767.93,1396.80 L1771.32,1396.88 L1774.71,1396.96 L1778.11,1397.03 L1781.50,1397.10 L1784.89,1397.16 L1788.29,1397.22 L1791.68,1397.28 L1795.07,1397.33 L1798.47,1397.38 L1801.86,1397.42 L1805.25,1397.46 L1808.65,1397.49 L1812.04,1397.52 L1815.43,1397.54 L1818.83,1397.56 L1822.22,1397.58 L1825.61,1397.59 L1829.01,1397.60 L1832.40,1397.60" stroke-dasharray="20.10 19.95"/>
<path d="M135.70,844.65 L139.09,846.94 L142.49,849.23 L145.88,851.52 L149.27,853.80 L152.67,856.08 L156.06,858.35 L159.45,860.62 L162.85,862.88 L166.24,865.14 L169.63,867.39 L173.03,869.64 L176.42,871.88 L179.81,874.12 L183.21,876.35 L186.60,878.58 L189.99,880.80 L193.39,883.02 L196.78,885.23 L200.17,887.44 L203.57,889.64 L206.96,891.84 L210.35,894.03 L213.75,896.22 L217.14,898.40 L220.53,900.58 L223.93,902.75 L227.32,904.92 L230.72,907.08 L234.11,909.24 L237.50,911.39 L240.90,913.54 L244.29,915.68 L247.68,917.82 L251.08,919.95 L254.47,922.08 L257.86,924.20 L261.26,926.31 L264.65,928.43 L268.04,930.53 L271.44,932.64 L274.83,934.73 L278.22,936.82 L281.62,938.91 L285.01,940.99 L288.40,943.07 L291.80,945.14 L295.19,947.21 L298.58,949.27 L301.98,951.33 L305.37,953.38 L308.76,955.43 L312.16,957.47 L315.55,959.51 L318.94,961.54 L322.34,963.56 L325.73,965.59 L329.12,967.60 L332.52,969.61 L335.91,971.62 L339.30,973.62 L342.70,975.62 L346.09,977.61 L349.48,979.60 L352.88,981.58 L356.27,983.56 L359.66,985.53 L363.06,987.49 L366.45,989.45 L369.84,991.41 L373.24,993.36 L376.63,995.31 L380.02,997.25 L383.42,999.19 L386.81,1001.12 L390.20,1003.04 L393.60,1004.97 L396.99,1006.88 L400.39,1008.79 L403.78,1010.70 L407.17,1012.60 L410.57,1014.50 L413.96,1016.39 L417.35,1018.27 L420.75,1020.16 L424.14,1022.03 L427.53,1023.90 L430.93,1025.77 L434.32,1027.63 L437.71,1029.49 L441.11,1031.34 L444.50,1033.18 L447.89,1035.03 L451.29,1036.86 L454.68,1038.69 L458.07,1040.52 L461.47,1042.34 L464.86,1044.16 L468.25,1045.97 L471.65,1047.77 L475.04,1049.58 L478.43,1051.37 L481.83,1053.16 L485.22,1054.95 L488.61,1056.73 L492.01,1058.51 L495.40,1060.28 L498.79,1062.04 L502.19,1063.81 L505.58,1065.56 L508.97,1067.31 L512.37,1069.06 L515.76,1070.80 L519.15,1072.54 L522.55,1074.27 L525.94,1076.00 L529.33,1077.72 L532.73,1079.44 L536.12,1081.15 L539.51,1082.85 L542.91,1084.56 L546.30,1086.25 L549.69,1087.94 L553.09,1089.63 L556.48,1091.31 L559.88,1092.99 L563.27,1094.66 L566.66,1096.33 L570.06,1097.99 L573.45,1099.65 L576.84,1101.30 L580.24,1102.95 L583.63,1104.59 L587.02,1106.23 L590.42,1107.86 L593.81,1109.49 L597.20,1111.11 L600.60,1112.73 L603.99,1114.34 L607.38,1115.95 L610.78,1117.56 L614.17,1119.15 L617.56,1120.75 L620.96,1122.34 L624.35,1123.92 L627.74,1125.50 L631.14,1127.07 L634.53,1128.64 L637.92,1130.21 L641.32,1131.76 L644.71,1133.32 L648.10,1134.87 L651.50,1136.41 L654.89,1137.95 L658.28,1139.49 L661.68,1141.02 L665.07,1142.54 L668.46,1144.06 L671.86,1145.58 L675.25,1147.09 L678.64,1148.59 L682.04,1150.09 L685.43,1151.59 L688.82,1153.08 L692.22,1154.57 L695.61,1156.05 L699.00,1157.52 L702.40,1159.00 L705.79,1160.46 L709.18,1161.92 L712.58,1163.38 L715.97,1164.83 L719.36,1166.28 L722.76,1167.72 L726.15,1169.16 L729.55,1170.59 L732.94,1172.02 L736.33,1173.45 L739.73,1174.86 L743.12,1176.28 L746.51,1177.69 L749.91,1179.09 L753.30,1180.49 L756.69,1181.88 L760.09,1183.27 L763.48,1184.66 L766.87,1186.04 L770.27,1187.41 L773.66,1188.79 L777.05,1190.15 L780.45,1191.51 L783.84,1192.87 L787.23,1194.22 L790.63,1195.57 L794.02,1196.91 L797.41,1198.25 L800.81,1199.58 L804.20,1200.91 L807.59,1202.23 L810.99,1203.55 L814.38,1204.86 L817.77,1206.17 L821.17,1207.47 L824.56,1208.77 L827.95,1210.07 L831.35,1211.36 L834.74,1212.64 L838.13,1213.92 L841.53,1215.20 L844.92,1216.47 L848.31,1217.73 L851.71,1219.00 L855.10,1220.25 L858.49,1221.50 L861.89,1222.75 L865.28,1223.99 L868.67,1225.23 L872.07,1226.47 L875.46,1227.69 L878.85,1228.92 L882.25,1230.14 L885.64,1231.35 L889.03,1232.56 L892.43,1233.77 L895.82,1234.97 L899.21,1236.16 L902.61,1237.35 L906.00,1238.54 L909.40,1239.72 L912.79,1240.90 L916.18,1242.07 L919.58,1243.24 L922.97,1244.40 L926.36,1245.56 L929.76,1246.72 L933.15,1247.87 L936.54,1249.01 L939.94,1250.15 L943.33,1251.29 L946.72,1252.42 L950.12,1253.54 L953.51,1254.66 L956.90,1255.78 L960.30,1256.89 L963.69,1258.00 L967.08,1259.10 L970.48,1260.20 L973.87,1261.30 L977.26,1262.39 L980.66,1263.47 L984.05,1264.55 L987.44,1265.63 L990.84,1266.70 L994.23,1267.77 L997.62,1268.83 L1001.02,1269.88 L1004.41,1270.94 L1007.80,1271.99 L1011.20,1273.03 L1014.59,1274.07 L1017.98,1275.10 L1021.38,1276.13 L1024.77,1277.16 L1028.16,1278.18 L1031.56,1279.20 L1034.95,1280.21 L1038.34,1281.22 L1041.74,1282.22 L1045.13,1283.22 L1048.52,1284.21 L1051.92,1285.20 L1055.31,1286.18 L1058.70,1287.16 L1062.10,1288.14 L1065.49,1289.11 L1068.88,1290.08 L1072.28,1291.04 L1075.67,1292.00 L1079.07,1292.95 L1082.46,1293.90 L1085.85,1294.84 L1089.25,1295.78 L1092.64,1296.72 L1096.03,1297.65 L1099.43,1298.58 L1102.82,1299.50 L1106.21,1300.42 L1109.61,1301.33 L1113.00,1302.24 L1116.39,1303.14 L1119.79,1304.04 L1123.18,1304.94 L1126.57,1305.83 L1129.97,1306.71 L1133.36,1307.59 L1136.75,1308.47 L1140.15,1309.34 L1143.54,1310.21 L1146.93,1311.08 L1150.33,1311.94 L1153.72,1312.79 L1157.11,1313.64 L1160.51,1314.49 L1163.90,1315.33 L1167.29,1316.17 L1170.69,1317.00 L1174.08,1317.83 L1177.47,1318.65 L1180.87,1319.47 L1184.26,1320.29 L1187.65,1321.10 L1191.05,1321.91 L1194.44,1322.71 L1197.83,1323.51 L1201.23,1324.30 L1204.62,1325.09 L1208.01,1325.87 L1211.41,1326.66 L1214.80,1327.43 L1218.19,1328.20 L1221.59,1328.97 L1224.98,1329.73 L1228.37,1330.49 L1231.77,1331.25 L1235.16,1332.00 L1238.56,1332.74 L1241.95,1333.48 L1245.34,1334.22 L1248.74,1334.95 L1252.13,1335.68 L1255.52,1336.40 L1258.92,1337.12 L1262.31,1337.84 L1265.70,1338.55 L1269.10,1339.25 L1272.49,1339.96 L1275.88,1340.65 L1279.28,1341.35 L1282.67,1342.04 L1286.06,1342.72 L1289.46,1343.40 L1292.85,1344.08 L1296.24,1344.75 L1299.64,1345.42 L1303.03,1346.08 L1306.42,1346.74 L1309.82,1347.39 L1313.21,1348.04 L1316.60,1348.69 L1320.00,1349.33 L1323.39,1349.97 L1326.78,1350.60 L1330.18,1351.23 L1333.57,1351.85 L1336.96,1352.47 L1340.36,1353.09 L1343.75,1353.70 L1347.14,1354.31 L1350.54,1354.91 L1353.93,1355.51 L1357.32,1356.10 L1360.72,1356.70 L1364.11,1357.28 L1367.50,1357.86 L1370.90,1358.44 L1374.29,1359.01 L1377.68,1359.58 L1381.08,1360.15 L1384.47,1360.71 L1387.86,1361.26 L1391.26,1361.81 L1394.65,1362.36 L1398.04,1362.91 L1401.44,1363.44 L1404.83,1363.98 L1408.23,1364.51 L1411.62,1365.04 L1415.01,1365.56 L1418.41,1366.08 L1421.80,1366.59 L1425.19,1367.10 L1428.59,1367.60 L1431.98,1368.11 L1435.37,1368.60 L1438.77,1369.09 L1442.16,1369.58 L1445.55,1370.07 L1448.95,1370.55 L1452.34,1371.02 L1455.73,1371.49 L1459.13,1371.96 L1462.52,1372.42 L1465.91,1372.88 L1469.31,1373.34 L1472.70,1373.79 L1476.09,1374.23 L1479.49,1374.67 L1482.88,1375.11 L1486.27,1375.54 L1489.67,1375.97 L1493.06,1376.40 L1496.45,1376.82 L1499.85,1377.23 L1503.24,1377.65 L1506.63,1378.05 L1510.03,1378.46 L1513.42,1378.86 L1516.81,1379.25 L1520.21,1379.64 L1523.60,1380.03 L1526.99,1380.41 L1530.39,1380.79 L1533.78,1381.17 L1537.17,1381.54 L1540.57,1381.90 L1543.96,1382.26 L1547.35,1382.62 L1550.75,1382.97 L1554.14,1383.32 L1557.53,1383.67 L1560.93,1384.01 L1564.32,1384.34 L1567.71,1384.68 L1571.11,1385.00 L1574.50,1385.33 L1577.89,1385.65 L1581.29,1385.96 L1584.68,1386.27 L1588.08,1386.58 L1591.47,1386.88 L1594.86,1387.18 L1598.26,1387.48 L1601.65,1387.77 L1605.04,1388.05 L1608.44,1388.34 L1611.83,1388.61 L1615.22,1388.89 L1618.62,1389.16 L1622.01,1389.42 L1625.40,1389.68 L1628.80,1389.94 L1632.19,1390.19 L1635.58,1390.44 L1638.98,1390.68 L1642.37,1390.92 L1645.76,1391.16 L1649.16,1391.39 L1652.55,1391.62 L1655.94,1391.84 L1659.34,1392.06 L1662.73,1392.27 L1666.12,1392.48 L1669.52,1392.69 L1672.91,1392.89 L1676.30,1393.09 L1679.70,1393.28 L1683.09,1393.47 L1686.48,1393.66 L1689.88,1393.84 L1693.27,1394.01 L1696.66,1394.18 L1700.06,1394.35 L1703.45,1394.52 L1706.84,1394.68 L1710.24,1394.83 L1713.63,1394.98 L1717.02,1395.13 L1720.42,1395.27 L1723.81,1395.41 L1727.20,1395.55 L1730.60,1395.68 L1733.99,1395.80 L1737.38,1395.92 L1740.78,1396.04 L1744.17,1396.15 L1747.57,1396.26 L1750.96,1396.37 L1754.35,1396.47 L1757.75,1396.56 L1761.14,1396.66 L1764.53,1396.74 L1767.93,1396.83 L1771.32,1396.91 L1774.71,1396.98 L1778.11,1397.05 L1781.50,1397.12 L1784.89,1397.18 L1788.29,1397.24 L1791.68,1397.29 L1795.07,1397.34 L1798.47,1397.39 L1801.86,1397.43 L1805.25,1397.46 L1808.65,1397.49 L1812.04,1397.52 L1815.43,1397.55 L1818.83,1397.57 L1822.22,1397.58 L1825.61,1397.59 L1829.01,1397.60 L1832.40,1397.60" stroke-dasharray="20.10 19.95"/>
<path d="M135.70,886.75 L139.09,888.86 L142.49,890.96 L145.88,893.05 L149.27,895.14 L152.67,897.23 L156.06,899.31 L159.45,901.39 L162.85,903.46 L166.24,905.53 L169.63,907.59 L173.03,909.65 L176.42,911.70 L179.81,913.75 L183.21,915.80 L186.60,917.84 L189.99,919.87 L193.39,921.91 L196.78,923.93 L200.17,925.95 L203.57,927.97 L206.96,929.98 L210.35,931.99 L213.75,934.00 L217.14,936.00 L220.53,937.99 L223.93,939.98 L227.32,941.97 L230.72,943.95 L234.11,945.92 L237.50,947.90 L240.90,949.86 L244.29,951.83 L247.68,953.78 L251.08,955.74 L254.47,957.69 L257.86,959.63 L261.26,961.57 L264.65,963.51 L268.04,965.44 L271.44,967.37 L274.83,969.29 L278.22,971.20 L281.62,973.12 L285.01,975.03 L288.40,976.93 L291.80,978.83 L295.19,980.72 L298.58,982.61 L301.98,984.50 L305.37,986.38 L308.76,988.26 L312.16,990.13 L315.55,992.00 L318.94,993.86 L322.34,995.72 L325.73,997.57 L329.12,999.42 L332.52,1001.27 L335.91,1003.11 L339.30,1004.95 L342.70,1006.78 L346.09,1008.60 L349.48,1010.43 L352.88,1012.24 L356.27,1014.06 L359.66,1015.87 L363.06,1017.67 L366.45,1019.47 L369.84,1021.27 L373.24,1023.06 L376.63,1024.85 L380.02,1026.63 L383.42,1028.41 L386.81,1030.18 L390.20,1031.95 L393.60,1033.71 L396.99,1035.47 L400.39,1037.23 L403.78,1038.98 L407.17,1040.72 L410.57,1042.47 L413.96,1044.20 L417.35,1045.94 L420.75,1047.66 L424.14,1049.39 L427.53,1051.11 L430.93,1052.82 L434.32,1054.53 L437.71,1056.24 L441.11,1057.94 L444.50,1059.64 L447.89,1061.33 L451.29,1063.02 L454.68,1064.70 L458.07,1066.38 L461.47,1068.06 L464.86,1069.73 L468.25,1071.40 L471.65,1073.06 L475.04,1074.71 L478.43,1076.37 L481.83,1078.02 L485.22,1079.66 L488.61,1081.30 L492.01,1082.93 L495.40,1084.56 L498.79,1086.19 L502.19,1087.81 L505.58,1089.43 L508.97,1091.04 L512.37,1092.65 L515.76,1094.25 L519.15,1095.85 L522.55,1097.45 L525.94,1099.04 L529.33,1100.63 L532.73,1102.21 L536.12,1103.79 L539.51,1105.36 L542.91,1106.93 L546.30,1108.49 L549.69,1110.05 L553.09,1111.61 L556.48,1113.16 L559.88,1114.70 L563.27,1116.25 L566.66,1117.78 L570.06,1119.32 L573.45,1120.85 L576.84,1122.37 L580.24,1123.89 L583.63,1125.41 L587.02,1126.92 L590.42,1128.43 L593.81,1129.93 L597.20,1131.43 L600.60,1132.92 L603.99,1134.41 L607.38,1135.90 L610.78,1137.38 L614.17,1138.85 L617.56,1140.32 L620.96,1141.79 L624.35,1143.26 L627.74,1144.71 L631.14,1146.17 L634.53,1147.62 L637.92,1149.06 L641.32,1150.51 L644.71,1151.94 L648.10,1153.38 L651.50,1154.80 L654.89,1156.23 L658.28,1157.65 L661.68,1159.06 L665.07,1160.47 L668.46,1161.88 L671.86,1163.28 L675.25,1164.68 L678.64,1166.07 L682.04,1167.46 L685.43,1168.85 L688.82,1170.23 L692.22,1171.60 L695.61,1172.98 L699.00,1174.34 L702.40,1175.71 L705.79,1177.06 L709.18,1178.42 L712.58,1179.77 L715.97,1181.11 L719.36,1182.46 L722.76,1183.79 L726.15,1185.12 L729.55,1186.45 L732.94,1187.78 L736.33,1189.10 L739.73,1190.41 L743.12,1191.72 L746.51,1193.03 L749.91,1194.33 L753.30,1195.63 L756.69,1196.92 L760.09,1198.21 L763.48,1199.50 L766.87,1200.78 L770.27,1202.06 L773.66,1203.33 L777.05,1204.60 L780.45,1205.86 L783.84,1207.12 L787.23,1208.37 L790.63,1209.62 L794.02,1210.87 L797.41,1212.11 L800.81,1213.35 L804.20,1214.58 L807.59,1215.81 L810.99,1217.04 L814.38,1218.26 L817.77,1219.47 L821.17,1220.69 L824.56,1221.89 L827.95,1223.10 L831.35,1224.30 L834.74,1225.49 L838.13,1226.68 L841.53,1227.87 L844.92,1229.05 L848.31,1230.23 L851.71,1231.40 L855.10,1232.57 L858.49,1233.74 L861.89,1234.90 L865.28,1236.05 L868.67,1237.21 L872.07,1238.35 L875.46,1239.50 L878.85,1240.64 L882.25,1241.77 L885.64,1242.90 L889.03,1244.03 L892.43,1245.15 L895.82,1246.27 L899.21,1247.38 L902.61,1248.49 L906.00,1249.60 L909.40,1250.70 L912.79,1251.79 L916.18,1252.89 L919.58,1253.98 L922.97,1255.06 L926.36,1256.14 L929.76,1257.22 L933.15,1258.29 L936.54,1259.35 L939.94,1260.42 L943.33,1261.48 L946.72,1262.53 L950.12,1263.58 L953.51,1264.63 L956.90,1265.67 L960.30,1266.71 L963.69,1267.74 L967.08,1268.77 L970.48,1269.79 L973.87,1270.81 L977.26,1271.83 L980.66,1272.84 L984.05,1273.85 L987.44,1274.85 L990.84,1275.85 L994.23,1276.85 L997.62,1277.84 L1001.02,1278.83 L1004.41,1279.81 L1007.80,1280.79 L1011.20,1281.76 L1014.59,1282.73 L1017.98,1283.70 L1021.38,1284.66 L1024.77,1285.62 L1028.16,1286.57 L1031.56,1287.52 L1034.95,1288.46 L1038.34,1289.40 L1041.74,1290.34 L1045.13,1291.27 L1048.52,1292.20 L1051.92,1293.13 L1055.31,1294.05 L1058.70,1294.96 L1062.10,1295.87 L1065.49,1296.78 L1068.88,1297.68 L1072.28,1298.58 L1075.67,1299.48 L1079.07,1300.37 L1082.46,1301.25 L1085.85,1302.14 L1089.25,1303.01 L1092.64,1303.89 L1096.03,1304.76 L1099.43,1305.62 L1102.82,1306.48 L1106.21,1307.34 L1109.61,1308.19 L1113.00,1309.04 L1116.39,1309.89 L1119.79,1310.73 L1123.18,1311.57 L1126.57,1312.40 L1129.97,1313.23 L1133.36,1314.05 L1136.75,1314.87 L1140.15,1315.69 L1143.54,1316.50 L1146.93,1317.30 L1150.33,1318.11 L1153.72,1318.91 L1157.11,1319.70 L1160.51,1320.49 L1163.90,1321.28 L1167.29,1322.06 L1170.69,1322.84 L1174.08,1323.61 L1177.47,1324.38 L1180.87,1325.15 L1184.26,1325.91 L1187.65,1326.67 L1191.05,1327.42 L1194.44,1328.17 L1197.83,1328.92 L1201.23,1329.66 L1204.62,1330.40 L1208.01,1331.13 L1211.41,1331.86 L1214.80,1332.59 L1218.19,1333.31 L1221.59,1334.02 L1224.98,1334.74 L1228.37,1335.44 L1231.77,1336.15 L1235.16,1336.85 L1238.56,1337.54 L1241.95,1338.24 L1245.34,1338.92 L1248.74,1339.61 L1252.13,1340.29 L1255.52,1340.96 L1258.92,1341.64 L1262.31,1342.30 L1265.70,1342.97 L1269.10,1343.63 L1272.49,1344.28 L1275.88,1344.93 L1279.28,1345.58 L1282.67,1346.22 L1286.06,1346.86 L1289.46,1347.50 L1292.85,1348.13 L1296.24,1348.75 L1299.64,1349.38 L1303.03,1349.99 L1306.42,1350.61 L1309.82,1351.22 L1313.21,1351.83 L1316.60,1352.43 L1320.00,1353.03 L1323.39,1353.62 L1326.78,1354.21 L1330.18,1354.80 L1333.57,1355.38 L1336.96,1355.96 L1340.36,1356.53 L1343.75,1357.10 L1347.14,1357.67 L1350.54,1358.23 L1353.93,1358.78 L1357.32,1359.34 L1360.72,1359.89 L1364.11,1360.43 L1367.50,1360.97 L1370.90,1361.51 L1374.29,1362.05 L1377.68,1362.57 L1381.08,1363.10 L1384.47,1363.62 L1387.86,1364.14 L1391.26,1364.65 L1394.65,1365.16 L1398.04,1365.67 L1401.44,1366.17 L1404.83,1366.66 L1408.23,1367.16 L1411.62,1367.65 L1415.01,1368.13 L1418.41,1368.61 L1421.80,1369.09 L1425.19,1369.56 L1428.59,1370.03 L1431.98,1370.50 L1435.37,1370.96 L1438.77,1371.41 L1442.16,1371.87 L1445.55,1372.32 L1448.95,1372.76 L1452.34,1373.20 L1455.73,1373.64 L1459.13,1374.07 L1462.52,1374.50 L1465.91,1374.93 L1469.31,1375.35 L1472.70,1375.76 L1476.09,1376.18 L1479.49,1376.58 L1482.88,1376.99 L1486.27,1377.39 L1489.67,1377.79 L1493.06,1378.18 L1496.45,1378.57 L1499.85,1378.95 L1503.24,1379.34 L1506.63,1379.71 L1510.03,1380.09 L1513.42,1380.45 L1516.81,1380.82 L1520.21,1381.18 L1523.60,1381.54 L1526.99,1381.89 L1530.39,1382.24 L1533.78,1382.58 L1537.17,1382.93 L1540.57,1383.26 L1543.96,1383.60 L1547.35,1383.93 L1550.75,1384.25 L1554.14,1384.57 L1557.53,1384.89 L1560.93,1385.20 L1564.32,1385.51 L1567.71,1385.82 L1571.11,1386.12 L1574.50,1386.42 L1577.89,1386.71 L1581.29,1387.00 L1584.68,1387.29 L1588.08,1387.57 L1591.47,1387.85 L1594.86,1388.12 L1598.26,1388.39 L1601.65,1388.66 L1605.04,1388.92 L1608.44,1389.18 L1611.83,1389.43 L1615.22,1389.68 L1618.62,1389.93 L1622.01,1390.17 L1625.40,1390.41 L1628.80,1390.65 L1632.19,1390.88 L1635.58,1391.10 L1638.98,1391.33 L1642.37,1391.54 L1645.76,1391.76 L1649.16,1391.97 L1652.55,1392.18 L1655.94,1392.38 L1659.34,1392.58 L1662.73,1392.78 L1666.12,1392.97 L1669.52,1393.16 L1672.91,1393.34 L1676.30,1393.52 L1679.70,1393.70 L1683.09,1393.87 L1686.48,1394.04 L1689.88,1394.20 L1693.27,1394.36 L1696.66,1394.52 L1700.06,1394.67 L1703.45,1394.82 L1706.84,1394.96 L1710.24,1395.10 L1713.63,1395.24 L1717.02,1395.37 L1720.42,1395.50 L1723.81,1395.63 L1727.20,1395.75 L1730.60,1395.87 L1733.99,1395.98 L1737.38,1396.09 L1740.78,1396.20 L1744.17,1396.30 L1747.57,1396.40 L1750.96,1396.49 L1754.35,1396.58 L1757.75,1396.67 L1761.14,1396.75 L1764.53,1396.83 L1767.93,1396.91 L1771.32,1396.98 L1774.71,1397.04 L1778.11,1397.11 L1781.50,1397.17 L1784.89,1397.22 L1788.29,1397.28 L1791.68,1397.32 L1795.07,1397.37 L1798.47,1397.41 L1801.86,1397.44 L1805.25,1397.48 L1808.65,1397.51 L1812.04,1397.53 L1815.43,1397.55 L1818.83,1397.57 L1822.22,1397.58 L1825.61,1397.59 L1829.01,1397.60 L1832.40,1397.60"/>
<path d="M135.70,918.53 L139.09,920.49 L142.49,922.45 L145.88,924.41 L149.27,926.36 L152.67,928.31 L156.06,930.25 L159.45,932.19 L162.85,934.13 L166.24,936.06 L169.63,937.98 L173.03,939.91 L176.42,941.83 L179.81,943.74 L183.21,945.65 L186.60,947.55 L189.99,949.46 L193.39,951.35 L196.78,953.25 L200.17,955.14 L203.57,957.02 L206.96,958.90 L210.35,960.78 L213.75,962.65 L217.14,964.52 L220.53,966.38 L223.93,968.24 L227.32,970.09 L230.72,971.95 L234.11,973.79 L237.50,975.63 L240.90,977.47 L244.29,979.31 L247.68,981.14 L251.08,982.96 L254.47,984.78 L257.86,986.60 L261.26,988.41 L264.65,990.22 L268.04,992.03 L271.44,993.83 L274.83,995.63 L278.22,997.42 L281.62,999.21 L285.01,1000.99 L288.40,1002.77 L291.80,1004.54 L295.19,1006.32 L298.58,1008.08 L301.98,1009.85 L305.37,1011.60 L308.76,1013.36 L312.16,1015.11 L315.55,1016.86 L318.94,1018.60 L322.34,1020.34 L325.73,1022.07 L329.12,1023.80 L332.52,1025.52 L335.91,1027.24 L339.30,1028.96 L342.70,1030.67 L346.09,1032.38 L349.48,1034.09 L352.88,1035.79 L356.27,1037.48 L359.66,1039.18 L363.06,1040.86 L366.45,1042.55 L369.84,1044.23 L373.24,1045.90 L376.63,1047.57 L380.02,1049.24 L383.42,1050.90 L386.81,1052.56 L390.20,1054.22 L393.60,1055.87 L396.99,1057.51 L400.39,1059.16 L403.78,1060.79 L407.17,1062.43 L410.57,1064.06 L413.96,1065.68 L417.35,1067.31 L420.75,1068.92 L424.14,1070.54 L427.53,1072.14 L430.93,1073.75 L434.32,1075.35 L437.71,1076.95 L441.11,1078.54 L444.50,1080.13 L447.89,1081.71 L451.29,1083.29 L454.68,1084.87 L458.07,1086.44 L461.47,1088.01 L464.86,1089.57 L468.25,1091.13 L471.65,1092.69 L475.04,1094.24 L478.43,1095.79 L481.83,1097.33 L485.22,1098.87 L488.61,1100.40 L492.01,1101.93 L495.40,1103.46 L498.79,1104.98 L502.19,1106.50 L505.58,1108.02 L508.97,1109.53 L512.37,1111.03 L515.76,1112.53 L519.15,1114.03 L522.55,1115.53 L525.94,1117.02 L529.33,1118.50 L532.73,1119.98 L536.12,1121.46 L539.51,1122.93 L542.91,1124.40 L546.30,1125.87 L549.69,1127.33 L553.09,1128.79 L556.48,1130.24 L559.88,1131.69 L563.27,1133.13 L566.66,1134.57 L570.06,1136.01 L573.45,1137.44 L576.84,1138.87 L580.24,1140.29 L583.63,1141.71 L587.02,1143.13 L590.42,1144.54 L593.81,1145.95 L597.20,1147.35 L600.60,1148.75 L603.99,1150.15 L607.38,1151.54 L610.78,1152.93 L614.17,1154.31 L617.56,1155.69 L620.96,1157.07 L624.35,1158.44 L627.74,1159.81 L631.14,1161.17 L634.53,1162.53 L637.92,1163.88 L641.32,1165.23 L644.71,1166.58 L648.10,1167.92 L651.50,1169.26 L654.89,1170.60 L658.28,1171.93 L661.68,1173.26 L665.07,1174.58 L668.46,1175.90 L671.86,1177.21 L675.25,1178.52 L678.64,1179.83 L682.04,1181.13 L685.43,1182.43 L688.82,1183.72 L692.22,1185.01 L695.61,1186.30 L699.00,1187.58 L702.40,1188.86 L705.79,1190.14 L709.18,1191.41 L712.58,1192.67 L715.97,1193.93 L719.36,1195.19 L722.76,1196.45 L726.15,1197.70 L729.55,1198.94 L732.94,1200.18 L736.33,1201.42 L739.73,1202.66 L743.12,1203.88 L746.51,1205.11 L749.91,1206.33 L753.30,1207.55 L756.69,1208.76 L760.09,1209.97 L763.48,1211.18 L766.87,1212.38 L770.27,1213.58 L773.66,1214.77 L777.05,1215.96 L780.45,1217.15 L783.84,1218.33 L787.23,1219.51 L790.63,1220.68 L794.02,1221.85 L797.41,1223.02 L800.81,1224.18 L804.20,1225.34 L807.59,1226.49 L810.99,1227.64 L814.38,1228.79 L817.77,1229.93 L821.17,1231.06 L824.56,1232.20 L827.95,1233.33 L831.35,1234.45 L834.74,1235.58 L838.13,1236.69 L841.53,1237.81 L844.92,1238.92 L848.31,1240.02 L851.71,1241.12 L855.10,1242.22 L858.49,1243.32 L861.89,1244.41 L865.28,1245.49 L868.67,1246.57 L872.07,1247.65 L875.46,1248.73 L878.85,1249.80 L882.25,1250.86 L885.64,1251.92 L889.03,1252.98 L892.43,1254.04 L895.82,1255.09 L899.21,1256.13 L902.61,1257.17 L906.00,1258.21 L909.40,1259.25 L912.79,1260.28 L916.18,1261.30 L919.58,1262.33 L922.97,1263.34 L926.36,1264.36 L929.76,1265.37 L933.15,1266.38 L936.54,1267.38 L939.94,1268.38 L943.33,1269.37 L946.72,1270.36 L950.12,1271.35 L953.51,1272.33 L956.90,1273.31 L960.30,1274.29 L963.69,1275.26 L967.08,1276.22 L970.48,1277.19 L973.87,1278.15 L977.26,1279.10 L980.66,1280.05 L984.05,1281.00 L987.44,1281.95 L990.84,1282.88 L994.23,1283.82 L997.62,1284.75 L1001.02,1285.68 L1004.41,1286.60 L1007.80,1287.52 L1011.20,1288.44 L1014.59,1289.35 L1017.98,1290.26 L1021.38,1291.16 L1024.77,1292.06 L1028.16,1292.96 L1031.56,1293.85 L1034.95,1294.74 L1038.34,1295.63 L1041.74,1296.51 L1045.13,1297.38 L1048.52,1298.26 L1051.92,1299.13 L1055.31,1299.99 L1058.70,1300.85 L1062.10,1301.71 L1065.49,1302.56 L1068.88,1303.41 L1072.28,1304.26 L1075.67,1305.10 L1079.07,1305.94 L1082.46,1306.77 L1085.85,1307.60 L1089.25,1308.43 L1092.64,1309.25 L1096.03,1310.07 L1099.43,1310.88 L1102.82,1311.69 L1106.21,1312.50 L1109.61,1313.30 L1113.00,1314.10 L1116.39,1314.89 L1119.79,1315.69 L1123.18,1316.47 L1126.57,1317.26 L1129.97,1318.04 L1133.36,1318.81 L1136.75,1319.58 L1140.15,1320.35 L1143.54,1321.11 L1146.93,1321.87 L1150.33,1322.63 L1153.72,1323.38 L1157.11,1324.13 L1160.51,1324.88 L1163.90,1325.62 L1167.29,1326.35 L1170.69,1327.09 L1174.08,1327.81 L1177.47,1328.54 L1180.87,1329.26 L1184.26,1329.98 L1187.65,1330.69 L1191.05,1331.40 L1194.44,1332.11 L1197.83,1332.81 L1201.23,1333.51 L1204.62,1334.20 L1208.01,1334.89 L1211.41,1335.58 L1214.80,1336.26 L1218.19,1336.94 L1221.59,1337.62 L1224.98,1338.29 L1228.37,1338.95 L1231.77,1339.62 L1235.16,1340.28 L1238.56,1340.93 L1241.95,1341.58 L1245.34,1342.23 L1248.74,1342.88 L1252.13,1343.52 L1255.52,1344.15 L1258.92,1344.79 L1262.31,1345.42 L1265.70,1346.04 L1269.10,1346.66 L1272.49,1347.28 L1275.88,1347.89 L1279.28,1348.50 L1282.67,1349.11 L1286.06,1349.71 L1289.46,1350.31 L1292.85,1350.90 L1296.24,1351.49 L1299.64,1352.08 L1303.03,1352.66 L1306.42,1353.24 L1309.82,1353.82 L1313.21,1354.39 L1316.60,1354.96 L1320.00,1355.52 L1323.39,1356.08 L1326.78,1356.64 L1330.18,1357.19 L1333.57,1357.74 L1336.96,1358.28 L1340.36,1358.82 L1343.75,1359.36 L1347.14,1359.89 L1350.54,1360.42 L1353.93,1360.95 L1357.32,1361.47 L1360.72,1361.99 L1364.11,1362.50 L1367.50,1363.02 L1370.90,1363.52 L1374.29,1364.03 L1377.68,1364.52 L1381.08,1365.02 L1384.47,1365.51 L1387.86,1366.00 L1391.26,1366.48 L1394.65,1366.96 L1398.04,1367.44 L1401.44,1367.91 L1404.83,1368.38 L1408.23,1368.85 L1411.62,1369.31 L1415.01,1369.77 L1418.41,1370.22 L1421.80,1370.67 L1425.19,1371.12 L1428.59,1371.56 L1431.98,1372.00 L1435.37,1372.43 L1438.77,1372.86 L1442.16,1373.29 L1445.55,1373.71 L1448.95,1374.13 L1452.34,1374.55 L1455.73,1374.96 L1459.13,1375.37 L1462.52,1375.77 L1465.91,1376.18 L1469.31,1376.57 L1472.70,1376.97 L1476.09,1377.36 L1479.49,1377.74 L1482.88,1378.12 L1486.27,1378.50 L1489.67,1378.88 L1493.06,1379.25 L1496.45,1379.62 L1499.85,1379.98 L1503.24,1380.34 L1506.63,1380.69 L1510.03,1381.05 L1513.42,1381.40 L1516.81,1381.74 L1520.21,1382.08 L1523.60,1382.42 L1526.99,1382.75 L1530.39,1383.08 L1533.78,1383.41 L1537.17,1383.73 L1540.57,1384.05 L1543.96,1384.36 L1547.35,1384.67 L1550.75,1384.98 L1554.14,1385.29 L1557.53,1385.58 L1560.93,1385.88 L1564.32,1386.17 L1567.71,1386.46 L1571.11,1386.75 L1574.50,1387.03 L1577.89,1387.31 L1581.29,1387.58 L1584.68,1387.85 L1588.08,1388.12 L1591.47,1388.38 L1594.86,1388.64 L1598.26,1388.89 L1601.65,1389.14 L1605.04,1389.39 L1608.44,1389.64 L1611.83,1389.88 L1615.22,1390.11 L1618.62,1390.35 L1622.01,1390.58 L1625.40,1390.80 L1628.80,1391.02 L1632.19,1391.24 L1635.58,1391.46 L1638.98,1391.67 L1642.37,1391.87 L1645.76,1392.08 L1649.16,1392.28 L1652.55,1392.47 L1655.94,1392.66 L1659.34,1392.85 L1662.73,1393.04 L1666.12,1393.22 L1669.52,1393.40 L1672.91,1393.57 L1676.30,1393.74 L1679.70,1393.91 L1683.09,1394.07 L1686.48,1394.23 L1689.88,1394.38 L1693.27,1394.54 L1696.66,1394.68 L1700.06,1394.83 L1703.45,1394.97 L1706.84,1395.11 L1710.24,1395.24 L1713.63,1395.37 L1717.02,1395.49 L1720.42,1395.62 L1723.81,1395.73 L1727.20,1395.85 L1730.60,1395.96 L1733.99,1396.07 L1737.38,1396.17 L1740.78,1396.27 L1744.17,1396.37 L1747.57,1396.46 L1750.96,1396.55 L1754.35,1396.64 L1757.75,1396.72 L1761.14,1396.80 L1764.53,1396.87 L1767.93,1396.94 L1771.32,1397.01 L1774.71,1397.07 L1778.11,1397.13 L1781.50,1397.19 L1784.89,1397.24 L1788.29,1397.29 L1791.68,1397.34 L1795.07,1397.38 L1798.47,1397.42 L1801.86,1397.45 L1805.25,1397.48 L1808.65,1397.51 L1812.04,1397.53 L1815.43,1397.55 L1818.83,1397.57 L1822.22,1397.58 L1825.61,1397.59 L1829.01,1397.60 L1832.40,1397.60"/>
<path d="M135.70,938.05 L139.09,939.92 L142.49,941.78 L145.88,943.64 L149.27,945.50 L152.67,947.35 L156.06,949.20 L159.45,951.05 L162.85,952.89 L166.24,954.73 L169.63,956.56 L173.03,958.39 L176.42,960.22 L179.81,962.04 L183.21,963.86 L186.60,965.67 L189.99,967.48 L193.39,969.29 L196.78,971.09 L200.17,972.89 L203.57,974.68 L206.96,976.47 L210.35,978.26 L213.75,980.04 L217.14,981.82 L220.53,983.60 L223.93,985.37 L227.32,987.13 L230.72,988.90 L234.11,990.66 L237.50,992.41 L240.90,994.16 L244.29,995.91 L247.68,997.65 L251.08,999.39 L254.47,1001.13 L257.86,1002.86 L261.26,1004.59 L264.65,1006.31 L268.04,1008.03 L271.44,1009.75 L274.83,1011.46 L278.22,1013.17 L281.62,1014.87 L285.01,1016.57 L288.40,1018.27 L291.80,1019.96 L295.19,1021.65 L298.58,1023.34 L301.98,1025.02 L305.37,1026.69 L308.76,1028.37 L312.16,1030.04 L315.55,1031.70 L318.94,1033.36 L322.34,1035.02 L325.73,1036.67 L329.12,1038.32 L332.52,1039.97 L335.91,1041.61 L339.30,1043.25 L342.70,1044.88 L346.09,1046.51 L349.48,1048.14 L352.88,1049.76 L356.27,1051.38 L359.66,1053.00 L363.06,1054.61 L366.45,1056.21 L369.84,1057.82 L373.24,1059.42 L376.63,1061.01 L380.02,1062.60 L383.42,1064.19 L386.81,1065.77 L390.20,1067.35 L393.60,1068.93 L396.99,1070.50 L400.39,1072.07 L403.78,1073.63 L407.17,1075.20 L410.57,1076.75 L413.96,1078.30 L417.35,1079.85 L420.75,1081.40 L424.14,1082.94 L427.53,1084.48 L430.93,1086.01 L434.32,1087.54 L437.71,1089.06 L441.11,1090.59 L444.50,1092.10 L447.89,1093.62 L451.29,1095.13 L454.68,1096.63 L458.07,1098.14 L461.47,1099.63 L464.86,1101.13 L468.25,1102.62 L471.65,1104.11 L475.04,1105.59 L478.43,1107.07 L481.83,1108.54 L485.22,1110.02 L488.61,1111.48 L492.01,1112.95 L495.40,1114.41 L498.79,1115.86 L502.19,1117.32 L505.58,1118.76 L508.97,1120.21 L512.37,1121.65 L515.76,1123.09 L519.15,1124.52 L522.55,1125.95 L525.94,1127.37 L529.33,1128.79 L532.73,1130.21 L536.12,1131.62 L539.51,1133.03 L542.91,1134.44 L546.30,1135.84 L549.69,1137.24 L553.09,1138.64 L556.48,1140.03 L559.88,1141.41 L563.27,1142.80 L566.66,1144.17 L570.06,1145.55 L573.45,1146.92 L576.84,1148.29 L580.24,1149.65 L583.63,1151.01 L587.02,1152.37 L590.42,1153.72 L593.81,1155.07 L597.20,1156.41 L600.60,1157.75 L603.99,1159.09 L607.38,1160.42 L610.78,1161.75 L614.17,1163.08 L617.56,1164.40 L620.96,1165.72 L624.35,1167.03 L627.74,1168.34 L631.14,1169.65 L634.53,1170.95 L637.92,1172.25 L641.32,1173.54 L644.71,1174.83 L648.10,1176.12 L651.50,1177.41 L654.89,1178.68 L658.28,1179.96 L661.68,1181.23 L665.07,1182.50 L668.46,1183.76 L671.86,1185.02 L675.25,1186.28 L678.64,1187.53 L682.04,1188.78 L685.43,1190.03 L688.82,1191.27 L692.22,1192.51 L695.61,1193.74 L699.00,1194.97 L702.40,1196.20 L705.79,1197.42 L709.18,1198.64 L712.58,1199.85 L715.97,1201.06 L719.36,1202.27 L722.76,1203.47 L726.15,1204.67 L729.55,1205.87 L732.94,1207.06 L736.33,1208.25 L739.73,1209.43 L743.12,1210.61 L746.51,1211.79 L749.91,1212.96 L753.30,1214.13 L756.69,1215.30 L760.09,1216.46 L763.48,1217.62 L766.87,1218.77 L770.27,1219.92 L773.66,1221.07 L777.05,1222.21 L780.45,1223.35 L783.84,1224.48 L787.23,1225.61 L790.63,1226.74 L794.02,1227.87 L797.41,1228.99 L800.81,1230.10 L804.20,1231.21 L807.59,1232.32 L810.99,1233.43 L814.38,1234.53 L817.77,1235.62 L821.17,1236.72 L824.56,1237.81 L827.95,1238.89 L831.35,1239.97 L834.74,1241.05 L838.13,1242.13 L841.53,1243.20 L844.92,1244.26 L848.31,1245.33 L851.71,1246.39 L855.10,1247.44 L858.49,1248.49 L861.89,1249.54 L865.28,1250.59 L868.67,1251.63 L872.07,1252.66 L875.46,1253.70 L878.85,1254.73 L882.25,1255.75 L885.64,1256.77 L889.03,1257.79 L892.43,1258.81 L895.82,1259.82 L899.21,1260.82 L902.61,1261.82 L906.00,1262.82 L909.40,1263.82 L912.79,1264.81 L916.18,1265.80 L919.58,1266.78 L922.97,1267.76 L926.36,1268.74 L929.76,1269.71 L933.15,1270.68 L936.54,1271.65 L939.94,1272.61 L943.33,1273.57 L946.72,1274.52 L950.12,1275.47 L953.51,1276.42 L956.90,1277.36 L960.30,1278.30 L963.69,1279.23 L967.08,1280.16 L970.48,1281.09 L973.87,1282.02 L977.26,1282.94 L980.66,1283.85 L984.05,1284.77 L987.44,1285.67 L990.84,1286.58 L994.23,1287.48 L997.62,1288.38 L1001.02,1289.27 L1004.41,1290.16 L1007.80,1291.05 L1011.20,1291.93 L1014.59,1292.81 L1017.98,1293.69 L1021.38,1294.56 L1024.77,1295.43 L1028.16,1296.29 L1031.56,1297.15 L1034.95,1298.01 L1038.34,1298.86 L1041.74,1299.71 L1045.13,1300.56 L1048.52,1301.40 L1051.92,1302.24 L1055.31,1303.07 L1058.70,1303.90 L1062.10,1304.73 L1065.49,1305.55 L1068.88,1306.37 L1072.28,1307.19 L1075.67,1308.00 L1079.07,1308.81 L1082.46,1309.61 L1085.85,1310.41 L1089.25,1311.21 L1092.64,1312.00 L1096.03,1312.79 L1099.43,1313.58 L1102.82,1314.36 L1106.21,1315.14 L1109.61,1315.91 L1113.00,1316.68 L1116.39,1317.45 L1119.79,1318.22 L1123.18,1318.98 L1126.57,1319.73 L1129.97,1320.48 L1133.36,1321.23 L1136.75,1321.98 L1140.15,1322.72 L1143.54,1323.46 L1146.93,1324.19 L1150.33,1324.92 L1153.72,1325.65 L1157.11,1326.37 L1160.51,1327.09 L1163.90,1327.81 L1167.29,1328.52 L1170.69,1329.23 L1174.08,1329.93 L1177.47,1330.63 L1180.87,1331.33 L1184.26,1332.02 L1187.65,1332.71 L1191.05,1333.40 L1194.44,1334.08 L1197.83,1334.76 L1201.23,1335.43 L1204.62,1336.10 L1208.01,1336.77 L1211.41,1337.44 L1214.80,1338.10 L1218.19,1338.75 L1221.59,1339.40 L1224.98,1340.05 L1228.37,1340.70 L1231.77,1341.34 L1235.16,1341.98 L1238.56,1342.61 L1241.95,1343.24 L1245.34,1343.87 L1248.74,1344.49 L1252.13,1345.11 L1255.52,1345.73 L1258.92,1346.34 L1262.31,1346.95 L1265.70,1347.55 L1269.10,1348.16 L1272.49,1348.75 L1275.88,1349.35 L1279.28,1349.94 L1282.67,1350.52 L1286.06,1351.11 L1289.46,1351.69 L1292.85,1352.26 L1296.24,1352.83 L1299.64,1353.40 L1303.03,1353.97 L1306.42,1354.53 L1309.82,1355.08 L1313.21,1355.64 L1316.60,1356.19 L1320.00,1356.73 L1323.39,1357.28 L1326.78,1357.81 L1330.18,1358.35 L1333.57,1358.88 L1336.96,1359.41 L1340.36,1359.93 L1343.75,1360.45 L1347.14,1360.97 L1350.54,1361.48 L1353.93,1361.99 L1357.32,1362.50 L1360.72,1363.00 L1364.11,1363.50 L1367.50,1363.99 L1370.90,1364.49 L1374.29,1364.97 L1377.68,1365.46 L1381.08,1365.94 L1384.47,1366.41 L1387.86,1366.89 L1391.26,1367.36 L1394.65,1367.82 L1398.04,1368.28 L1401.44,1368.74 L1404.83,1369.20 L1408.23,1369.65 L1411.62,1370.10 L1415.01,1370.54 L1418.41,1370.98 L1421.80,1371.42 L1425.19,1371.85 L1428.59,1372.28 L1431.98,1372.70 L1435.37,1373.13 L1438.77,1373.54 L1442.16,1373.96 L1445.55,1374.37 L1448.95,1374.78 L1452.34,1375.18 L1455.73,1375.58 L1459.13,1375.98 L1462.52,1376.37 L1465.91,1376.76 L1469.31,1377.15 L1472.70,1377.53 L1476.09,1377.91 L1479.49,1378.28 L1482.88,1378.65 L1486.27,1379.02 L1489.67,1379.38 L1493.06,1379.74 L1496.45,1380.10 L1499.85,1380.45 L1503.24,1380.80 L1506.63,1381.15 L1510.03,1381.49 L1513.42,1381.83 L1516.81,1382.16 L1520.21,1382.50 L1523.60,1382.82 L1526.99,1383.15 L1530.39,1383.47 L1533.78,1383.78 L1537.17,1384.10 L1540.57,1384.41 L1543.96,1384.71 L1547.35,1385.02 L1550.75,1385.31 L1554.14,1385.61 L1557.53,1385.90 L1560.93,1386.19 L1564.32,1386.47 L1567.71,1386.75 L1571.11,1387.03 L1574.50,1387.30 L1577.89,1387.57 L1581.29,1387.84 L1584.68,1388.10 L1588.08,1388.36 L1591.47,1388.62 L1594.86,1388.87 L1598.26,1389.12 L1601.65,1389.36 L1605.04,1389.60 L1608.44,1389.84 L1611.83,1390.08 L1615.22,1390.31 L1618.62,1390.53 L1622.01,1390.76 L1625.40,1390.97 L1628.80,1391.19 L1632.19,1391.40 L1635.58,1391.61 L1638.98,1391.82 L1642.37,1392.02 L1645.76,1392.22 L1649.16,1392.41 L1652.55,1392.60 L1655.94,1392.79 L1659.34,1392.97 L1662.73,1393.15 L1666.12,1393.33 L1669.52,1393.50 L1672.91,1393.67 L1676.30,1393.84 L1679.70,1394.00 L1683.09,1394.16 L1686.48,1394.31 L1689.88,1394.46 L1693.27,1394.61 L1696.66,1394.76 L1700.06,1394.90 L1703.45,1395.03 L1706.84,1395.17 L1710.24,1395.30 L1713.63,1395.42 L1717.02,1395.55 L1720.42,1395.67 L1723.81,1395.78 L1727.20,1395.89 L1730.60,1396.00 L1733.99,1396.11 L1737.38,1396.21 L1740.78,1396.31 L1744.17,1396.40 L1747.57,1396.49 L1750.96,1396.58 L1754.35,1396.66 L1757.75,1396.74 L1761.14,1396.82 L1764.53,1396.89 L1767.93,1396.96 L1771.32,1397.02 L1774.71,1397.09 L1778.11,1397.15 L1781.50,1397.20 L1784.89,1397.25 L1788.29,1397.30 L1791.68,1397.34 L1795.07,1397.39 L1798.47,1397.42 L1801.86,1397.46 L1805.25,1397.49 L1808.65,1397.51 L1812.04,1397.54 L1815.43,1397.56 L1818.83,1397.57 L1822.22,1397.58 L1825.61,1397.59 L1829.01,1397.60 L1832.40,1397.60"/>
</g>
<line x1="1094" y1="134.7" x2="1282" y2="134.7" stroke="#000" stroke-width="2.7"/>
<line x1="1101.6" y1="250.3" x2="1289.6" y2="250.3" stroke="#000" stroke-width="2.8" stroke-dasharray="10.2 9.9"/>
<text class="lg" x="1777" y="147.2" text-anchor="end">Hybrid nanofluid</text>
<text class="lg" x="1777" y="262.3" text-anchor="end">Mono nanofluid</text>
<text class="an" x="685.50" y="730.70">We</text>
<text class="an" x="758.00" y="757.30" style="font-size:45px">x</text>
<text class="an" x="798.00" y="730.70">=</text>
<text class="an" x="847.20" y="730.70" style="word-spacing:-0.4px;letter-spacing:-0.35px">0.5, 0.3, 0.1, 0.05, 0</text>
<line x1="850.30" y1="756.60" x2="431.96" y2="1156.29" stroke="#000" stroke-width="2.1"/>
<polygon points="421.40,1166.38 471.19,1144.67 431.96,1156.29 445.36,1117.63" fill="#000" stroke="#000" stroke-width="1.8" stroke-linejoin="miter" stroke-miterlimit="2"/>
</svg></body></html>
